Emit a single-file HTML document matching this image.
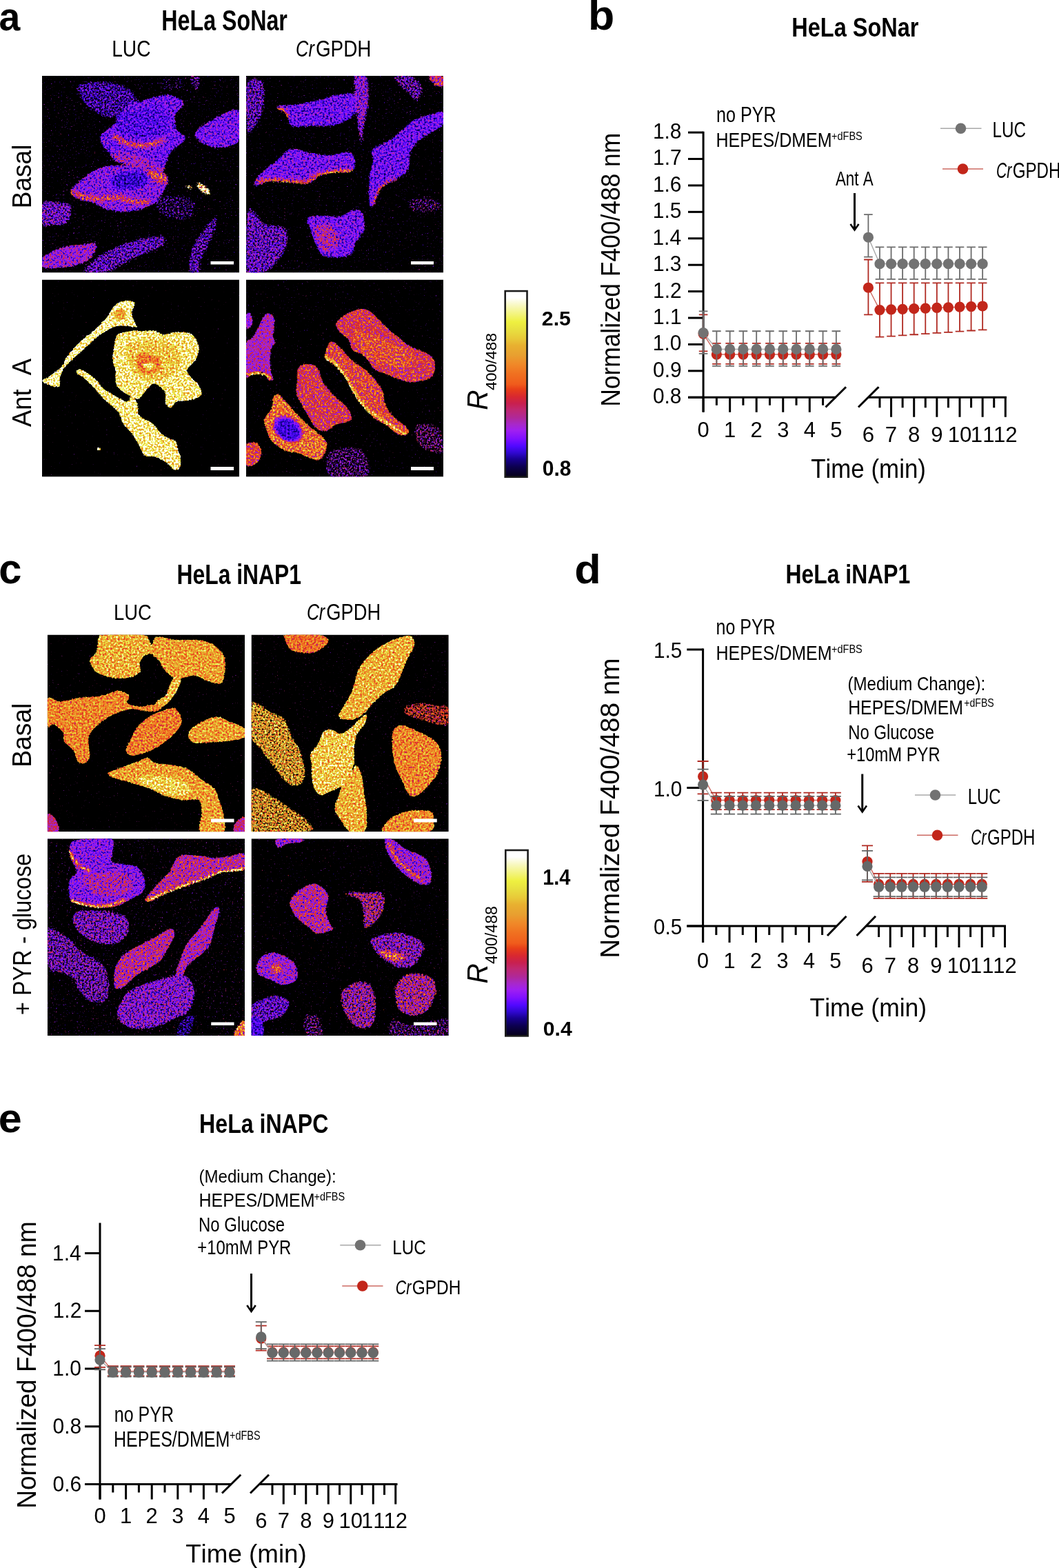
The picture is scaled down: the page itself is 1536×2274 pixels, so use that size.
<!DOCTYPE html>
<html><head><meta charset="utf-8"><title>Figure</title>
<style>
html,body{margin:0;padding:0;background:#fff;}
body{width:1536px;height:2274px;overflow:hidden;}
svg{display:block;}
svg text{font-family:"Liberation Sans",Arial,sans-serif;font-kerning:none;white-space:pre;}
</style></head><body>
<svg width="1536" height="2274" viewBox="0 0 1536 2274">
<defs><filter id="soft" x="-2%" y="-2%" width="104%" height="104%"><feGaussianBlur stdDeviation="6"/></filter>
<linearGradient id="cbar" x1="0" y1="0" x2="0" y2="1"><stop offset="0.000" stop-color="#ffffff"/><stop offset="0.036" stop-color="#ffffff"/><stop offset="0.077" stop-color="#f8f8c0"/><stop offset="0.166" stop-color="#eef040"/><stop offset="0.207" stop-color="#e8e040"/><stop offset="0.258" stop-color="#e8c838"/><stop offset="0.293" stop-color="#e8b030"/><stop offset="0.344" stop-color="#e8a030"/><stop offset="0.395" stop-color="#f08828"/><stop offset="0.446" stop-color="#f07020"/><stop offset="0.501" stop-color="#f05c1c"/><stop offset="0.527" stop-color="#e84018"/><stop offset="0.568" stop-color="#d82830"/><stop offset="0.606" stop-color="#c82050"/><stop offset="0.637" stop-color="#c02870"/><stop offset="0.681" stop-color="#b02898"/><stop offset="0.716" stop-color="#a828c8"/><stop offset="0.750" stop-color="#a020f0"/><stop offset="0.794" stop-color="#8010ff"/><stop offset="0.835" stop-color="#5008ff"/><stop offset="0.870" stop-color="#3008d0"/><stop offset="0.904" stop-color="#180090"/><stop offset="0.945" stop-color="#0c0050"/><stop offset="0.990" stop-color="#060020"/><stop offset="1.000" stop-color="#060018"/></linearGradient>
<clipPath id="clip1"><rect x="0" y="0" width="286.00" height="285.50"/></clipPath>
<filter id="fire1" x="0" y="0" width="286.00" height="285.50" filterUnits="userSpaceOnUse" color-interpolation-filters="sRGB"><feGaussianBlur in="SourceGraphic" stdDeviation="2.00" result="src"/><feColorMatrix in="src" type="matrix" values="1 0 0 0 0 0 1 0 0 0 0 0 1 0 0 0 0 0 0 1" result="opq"/><feTurbulence type="fractalNoise" baseFrequency="0.360" numOctaves="2" seed="10" result="n"/><feColorMatrix in="n" type="matrix" values="1 0 0 0 0 1 0 0 0 0 1 0 0 0 0 0 0 0 0 1" result="ng"/><feComposite in="opq" in2="ng" operator="arithmetic" k1="2.800" k2="-0.400" k3="0" k4="0" result="v"/><feComponentTransfer in="v" result="c"><feFuncR type="table" tableValues="0.0000 0.0266 0.0349 0.0432 0.0568 0.0750 0.0932 0.1359 0.1799 0.2343 0.2912 0.3578 0.4307 0.5030 0.5482 0.5935 0.6311 0.6458 0.6604 0.6746 0.6888 0.7106 0.7333 0.7550 0.7711 0.7890 0.8152 0.8414 0.8661 0.8904 0.9137 0.9328 0.9412 0.9412 0.9412 0.9412 0.9412 0.9412 0.9412 0.9325 0.9228 0.9130 0.9098 0.9098 0.9098 0.9098 0.9098 0.9098 0.9098 0.9098 0.9102 0.9193 0.9284 0.9365 0.9435 0.9505 0.9575 0.9645 0.9715 0.9816 0.9922 1.0000 1.0000 1.0000"/><feFuncG type="table" tableValues="0.0000 0.0000 0.0000 0.0000 0.0000 0.0000 0.0000 0.0139 0.0286 0.0314 0.0314 0.0387 0.0509 0.0632 0.0859 0.1085 0.1292 0.1438 0.1569 0.1569 0.1569 0.1569 0.1569 0.1548 0.1387 0.1278 0.1409 0.1540 0.1854 0.2219 0.2645 0.3315 0.3735 0.3962 0.4188 0.4421 0.4714 0.5007 0.5300 0.5593 0.5886 0.6178 0.6406 0.6601 0.6796 0.7098 0.7525 0.7918 0.8210 0.8503 0.8794 0.9037 0.9280 0.9437 0.9493 0.9549 0.9605 0.9661 0.9717 0.9816 0.9922 1.0000 1.0000 1.0000"/><feFuncB type="table" tableValues="0.0000 0.1501 0.2165 0.2829 0.3657 0.4629 0.5600 0.6763 0.7934 0.8834 0.9670 1.0000 1.0000 0.9995 0.9783 0.9571 0.9229 0.8496 0.7751 0.6897 0.6044 0.5450 0.4884 0.4308 0.3665 0.3044 0.2520 0.1996 0.1597 0.1232 0.0960 0.1056 0.1124 0.1169 0.1214 0.1264 0.1362 0.1460 0.1557 0.1655 0.1753 0.1850 0.1882 0.1882 0.1882 0.1948 0.2090 0.2221 0.2319 0.2416 0.2510 0.2510 0.2510 0.2920 0.3815 0.4710 0.5606 0.6501 0.7396 0.8343 0.9300 1.0000 1.0000 1.0000"/></feComponentTransfer><feTurbulence type="fractalNoise" baseFrequency="0.396" numOctaves="2" seed="18" result="n2"/><feColorMatrix in="n2" type="matrix" values="0 0 0 0 0 0 0 0 0 0 0 0 0 0 0 1 0 0 0 0" result="n2a"/><feComposite in="src" in2="n2a" operator="arithmetic" k1="0" k2="4.00" k3="-4.00" k4="0.5" result="mask"/><feComposite in="c" in2="mask" operator="in" result="o"/><feGaussianBlur in="o" stdDeviation="0.45"/></filter>
<clipPath id="clip2"><rect x="0" y="0" width="286.00" height="285.50"/></clipPath>
<filter id="fire2" x="0" y="0" width="286.00" height="285.50" filterUnits="userSpaceOnUse" color-interpolation-filters="sRGB"><feGaussianBlur in="SourceGraphic" stdDeviation="2.00" result="src"/><feColorMatrix in="src" type="matrix" values="1 0 0 0 0 0 1 0 0 0 0 0 1 0 0 0 0 0 0 1" result="opq"/><feTurbulence type="fractalNoise" baseFrequency="0.360" numOctaves="2" seed="17" result="n"/><feColorMatrix in="n" type="matrix" values="1 0 0 0 0 1 0 0 0 0 1 0 0 0 0 0 0 0 0 1" result="ng"/><feComposite in="opq" in2="ng" operator="arithmetic" k1="2.800" k2="-0.400" k3="0" k4="0" result="v"/><feComponentTransfer in="v" result="c"><feFuncR type="table" tableValues="0.0000 0.0266 0.0349 0.0432 0.0568 0.0750 0.0932 0.1359 0.1799 0.2343 0.2912 0.3578 0.4307 0.5030 0.5482 0.5935 0.6311 0.6458 0.6604 0.6746 0.6888 0.7106 0.7333 0.7550 0.7711 0.7890 0.8152 0.8414 0.8661 0.8904 0.9137 0.9328 0.9412 0.9412 0.9412 0.9412 0.9412 0.9412 0.9412 0.9325 0.9228 0.9130 0.9098 0.9098 0.9098 0.9098 0.9098 0.9098 0.9098 0.9098 0.9102 0.9193 0.9284 0.9365 0.9435 0.9505 0.9575 0.9645 0.9715 0.9816 0.9922 1.0000 1.0000 1.0000"/><feFuncG type="table" tableValues="0.0000 0.0000 0.0000 0.0000 0.0000 0.0000 0.0000 0.0139 0.0286 0.0314 0.0314 0.0387 0.0509 0.0632 0.0859 0.1085 0.1292 0.1438 0.1569 0.1569 0.1569 0.1569 0.1569 0.1548 0.1387 0.1278 0.1409 0.1540 0.1854 0.2219 0.2645 0.3315 0.3735 0.3962 0.4188 0.4421 0.4714 0.5007 0.5300 0.5593 0.5886 0.6178 0.6406 0.6601 0.6796 0.7098 0.7525 0.7918 0.8210 0.8503 0.8794 0.9037 0.9280 0.9437 0.9493 0.9549 0.9605 0.9661 0.9717 0.9816 0.9922 1.0000 1.0000 1.0000"/><feFuncB type="table" tableValues="0.0000 0.1501 0.2165 0.2829 0.3657 0.4629 0.5600 0.6763 0.7934 0.8834 0.9670 1.0000 1.0000 0.9995 0.9783 0.9571 0.9229 0.8496 0.7751 0.6897 0.6044 0.5450 0.4884 0.4308 0.3665 0.3044 0.2520 0.1996 0.1597 0.1232 0.0960 0.1056 0.1124 0.1169 0.1214 0.1264 0.1362 0.1460 0.1557 0.1655 0.1753 0.1850 0.1882 0.1882 0.1882 0.1948 0.2090 0.2221 0.2319 0.2416 0.2510 0.2510 0.2510 0.2920 0.3815 0.4710 0.5606 0.6501 0.7396 0.8343 0.9300 1.0000 1.0000 1.0000"/></feComponentTransfer><feTurbulence type="fractalNoise" baseFrequency="0.396" numOctaves="2" seed="31" result="n2"/><feColorMatrix in="n2" type="matrix" values="0 0 0 0 0 0 0 0 0 0 0 0 0 0 0 1 0 0 0 0" result="n2a"/><feComposite in="src" in2="n2a" operator="arithmetic" k1="0" k2="4.00" k3="-4.00" k4="0.5" result="mask"/><feComposite in="c" in2="mask" operator="in" result="o"/><feGaussianBlur in="o" stdDeviation="0.45"/></filter>
<clipPath id="clip3"><rect x="0" y="0" width="286.00" height="286.00"/></clipPath>
<filter id="fire3" x="0" y="0" width="286.00" height="286.00" filterUnits="userSpaceOnUse" color-interpolation-filters="sRGB"><feGaussianBlur in="SourceGraphic" stdDeviation="1.00" result="src"/><feColorMatrix in="src" type="matrix" values="1 0 0 0 0 0 1 0 0 0 0 0 1 0 0 0 0 0 0 1" result="opq"/><feTurbulence type="fractalNoise" baseFrequency="0.360" numOctaves="2" seed="24" result="n"/><feColorMatrix in="n" type="matrix" values="1 0 0 0 0 1 0 0 0 0 1 0 0 0 0 0 0 0 0 1" result="ng"/><feComposite in="opq" in2="ng" operator="arithmetic" k1="1.300" k2="0.350" k3="0" k4="0" result="v"/><feComponentTransfer in="v" result="c"><feFuncR type="table" tableValues="0.0000 0.0266 0.0349 0.0432 0.0568 0.0750 0.0932 0.1359 0.1799 0.2343 0.2912 0.3578 0.4307 0.5030 0.5482 0.5935 0.6311 0.6458 0.6604 0.6746 0.6888 0.7106 0.7333 0.7550 0.7711 0.7890 0.8152 0.8414 0.8661 0.8904 0.9137 0.9328 0.9412 0.9412 0.9412 0.9412 0.9412 0.9412 0.9412 0.9325 0.9228 0.9130 0.9098 0.9098 0.9098 0.9098 0.9098 0.9098 0.9098 0.9098 0.9102 0.9193 0.9284 0.9365 0.9435 0.9505 0.9575 0.9645 0.9715 0.9816 0.9922 1.0000 1.0000 1.0000"/><feFuncG type="table" tableValues="0.0000 0.0000 0.0000 0.0000 0.0000 0.0000 0.0000 0.0139 0.0286 0.0314 0.0314 0.0387 0.0509 0.0632 0.0859 0.1085 0.1292 0.1438 0.1569 0.1569 0.1569 0.1569 0.1569 0.1548 0.1387 0.1278 0.1409 0.1540 0.1854 0.2219 0.2645 0.3315 0.3735 0.3962 0.4188 0.4421 0.4714 0.5007 0.5300 0.5593 0.5886 0.6178 0.6406 0.6601 0.6796 0.7098 0.7525 0.7918 0.8210 0.8503 0.8794 0.9037 0.9280 0.9437 0.9493 0.9549 0.9605 0.9661 0.9717 0.9816 0.9922 1.0000 1.0000 1.0000"/><feFuncB type="table" tableValues="0.0000 0.1501 0.2165 0.2829 0.3657 0.4629 0.5600 0.6763 0.7934 0.8834 0.9670 1.0000 1.0000 0.9995 0.9783 0.9571 0.9229 0.8496 0.7751 0.6897 0.6044 0.5450 0.4884 0.4308 0.3665 0.3044 0.2520 0.1996 0.1597 0.1232 0.0960 0.1056 0.1124 0.1169 0.1214 0.1264 0.1362 0.1460 0.1557 0.1655 0.1753 0.1850 0.1882 0.1882 0.1882 0.1948 0.2090 0.2221 0.2319 0.2416 0.2510 0.2510 0.2510 0.2920 0.3815 0.4710 0.5606 0.6501 0.7396 0.8343 0.9300 1.0000 1.0000 1.0000"/></feComponentTransfer><feTurbulence type="fractalNoise" baseFrequency="0.396" numOctaves="2" seed="44" result="n2"/><feColorMatrix in="n2" type="matrix" values="0 0 0 0 0 0 0 0 0 0 0 0 0 0 0 1 0 0 0 0" result="n2a"/><feComposite in="src" in2="n2a" operator="arithmetic" k1="0" k2="4.00" k3="-4.00" k4="0.5" result="mask"/><feComposite in="c" in2="mask" operator="in" result="o"/><feGaussianBlur in="o" stdDeviation="0.45"/></filter>
<clipPath id="clip4"><rect x="0" y="0" width="286.00" height="286.00"/></clipPath>
<filter id="fire4" x="0" y="0" width="286.00" height="286.00" filterUnits="userSpaceOnUse" color-interpolation-filters="sRGB"><feGaussianBlur in="SourceGraphic" stdDeviation="1.40" result="src"/><feColorMatrix in="src" type="matrix" values="1 0 0 0 0 0 1 0 0 0 0 0 1 0 0 0 0 0 0 1" result="opq"/><feTurbulence type="fractalNoise" baseFrequency="0.360" numOctaves="2" seed="31" result="n"/><feColorMatrix in="n" type="matrix" values="1 0 0 0 0 1 0 0 0 0 1 0 0 0 0 0 0 0 0 1" result="ng"/><feComposite in="opq" in2="ng" operator="arithmetic" k1="2.000" k2="0.000" k3="0" k4="0" result="v"/><feComponentTransfer in="v" result="c"><feFuncR type="table" tableValues="0.0000 0.0266 0.0349 0.0432 0.0568 0.0750 0.0932 0.1359 0.1799 0.2343 0.2912 0.3578 0.4307 0.5030 0.5482 0.5935 0.6311 0.6458 0.6604 0.6746 0.6888 0.7106 0.7333 0.7550 0.7711 0.7890 0.8152 0.8414 0.8661 0.8904 0.9137 0.9328 0.9412 0.9412 0.9412 0.9412 0.9412 0.9412 0.9412 0.9325 0.9228 0.9130 0.9098 0.9098 0.9098 0.9098 0.9098 0.9098 0.9098 0.9098 0.9102 0.9193 0.9284 0.9365 0.9435 0.9505 0.9575 0.9645 0.9715 0.9816 0.9922 1.0000 1.0000 1.0000"/><feFuncG type="table" tableValues="0.0000 0.0000 0.0000 0.0000 0.0000 0.0000 0.0000 0.0139 0.0286 0.0314 0.0314 0.0387 0.0509 0.0632 0.0859 0.1085 0.1292 0.1438 0.1569 0.1569 0.1569 0.1569 0.1569 0.1548 0.1387 0.1278 0.1409 0.1540 0.1854 0.2219 0.2645 0.3315 0.3735 0.3962 0.4188 0.4421 0.4714 0.5007 0.5300 0.5593 0.5886 0.6178 0.6406 0.6601 0.6796 0.7098 0.7525 0.7918 0.8210 0.8503 0.8794 0.9037 0.9280 0.9437 0.9493 0.9549 0.9605 0.9661 0.9717 0.9816 0.9922 1.0000 1.0000 1.0000"/><feFuncB type="table" tableValues="0.0000 0.1501 0.2165 0.2829 0.3657 0.4629 0.5600 0.6763 0.7934 0.8834 0.9670 1.0000 1.0000 0.9995 0.9783 0.9571 0.9229 0.8496 0.7751 0.6897 0.6044 0.5450 0.4884 0.4308 0.3665 0.3044 0.2520 0.1996 0.1597 0.1232 0.0960 0.1056 0.1124 0.1169 0.1214 0.1264 0.1362 0.1460 0.1557 0.1655 0.1753 0.1850 0.1882 0.1882 0.1882 0.1948 0.2090 0.2221 0.2319 0.2416 0.2510 0.2510 0.2510 0.2920 0.3815 0.4710 0.5606 0.6501 0.7396 0.8343 0.9300 1.0000 1.0000 1.0000"/></feComponentTransfer><feTurbulence type="fractalNoise" baseFrequency="0.396" numOctaves="2" seed="57" result="n2"/><feColorMatrix in="n2" type="matrix" values="0 0 0 0 0 0 0 0 0 0 0 0 0 0 0 1 0 0 0 0" result="n2a"/><feComposite in="src" in2="n2a" operator="arithmetic" k1="0" k2="4.00" k3="-4.00" k4="0.5" result="mask"/><feComposite in="c" in2="mask" operator="in" result="o"/><feGaussianBlur in="o" stdDeviation="0.45"/></filter>
<clipPath id="clip5"><rect x="0" y="0" width="286.25" height="285.75"/></clipPath>
<filter id="fire5" x="0" y="0" width="286.25" height="285.75" filterUnits="userSpaceOnUse" color-interpolation-filters="sRGB"><feGaussianBlur in="SourceGraphic" stdDeviation="1.20" result="src"/><feColorMatrix in="src" type="matrix" values="1 0 0 0 0 0 1 0 0 0 0 0 1 0 0 0 0 0 0 1" result="opq"/><feTurbulence type="fractalNoise" baseFrequency="0.360" numOctaves="2" seed="38" result="n"/><feColorMatrix in="n" type="matrix" values="1 0 0 0 0 1 0 0 0 0 1 0 0 0 0 0 0 0 0 1" result="ng"/><feComposite in="opq" in2="ng" operator="arithmetic" k1="1.350" k2="0.325" k3="0" k4="0" result="v"/><feComponentTransfer in="v" result="c"><feFuncR type="table" tableValues="0.0000 0.0266 0.0349 0.0432 0.0568 0.0750 0.0932 0.1359 0.1799 0.2343 0.2912 0.3578 0.4307 0.5030 0.5482 0.5935 0.6311 0.6458 0.6604 0.6746 0.6888 0.7106 0.7333 0.7550 0.7711 0.7890 0.8152 0.8414 0.8661 0.8904 0.9137 0.9328 0.9412 0.9412 0.9412 0.9412 0.9412 0.9412 0.9412 0.9325 0.9228 0.9130 0.9098 0.9098 0.9098 0.9098 0.9098 0.9098 0.9098 0.9098 0.9102 0.9193 0.9284 0.9365 0.9435 0.9505 0.9575 0.9645 0.9715 0.9816 0.9922 1.0000 1.0000 1.0000"/><feFuncG type="table" tableValues="0.0000 0.0000 0.0000 0.0000 0.0000 0.0000 0.0000 0.0139 0.0286 0.0314 0.0314 0.0387 0.0509 0.0632 0.0859 0.1085 0.1292 0.1438 0.1569 0.1569 0.1569 0.1569 0.1569 0.1548 0.1387 0.1278 0.1409 0.1540 0.1854 0.2219 0.2645 0.3315 0.3735 0.3962 0.4188 0.4421 0.4714 0.5007 0.5300 0.5593 0.5886 0.6178 0.6406 0.6601 0.6796 0.7098 0.7525 0.7918 0.8210 0.8503 0.8794 0.9037 0.9280 0.9437 0.9493 0.9549 0.9605 0.9661 0.9717 0.9816 0.9922 1.0000 1.0000 1.0000"/><feFuncB type="table" tableValues="0.0000 0.1501 0.2165 0.2829 0.3657 0.4629 0.5600 0.6763 0.7934 0.8834 0.9670 1.0000 1.0000 0.9995 0.9783 0.9571 0.9229 0.8496 0.7751 0.6897 0.6044 0.5450 0.4884 0.4308 0.3665 0.3044 0.2520 0.1996 0.1597 0.1232 0.0960 0.1056 0.1124 0.1169 0.1214 0.1264 0.1362 0.1460 0.1557 0.1655 0.1753 0.1850 0.1882 0.1882 0.1882 0.1948 0.2090 0.2221 0.2319 0.2416 0.2510 0.2510 0.2510 0.2920 0.3815 0.4710 0.5606 0.6501 0.7396 0.8343 0.9300 1.0000 1.0000 1.0000"/></feComponentTransfer><feTurbulence type="fractalNoise" baseFrequency="0.396" numOctaves="2" seed="70" result="n2"/><feColorMatrix in="n2" type="matrix" values="0 0 0 0 0 0 0 0 0 0 0 0 0 0 0 1 0 0 0 0" result="n2a"/><feComposite in="src" in2="n2a" operator="arithmetic" k1="0" k2="4.00" k3="-4.00" k4="0.5" result="mask"/><feComposite in="c" in2="mask" operator="in" result="o"/><feGaussianBlur in="o" stdDeviation="0.45"/></filter>
<clipPath id="clip6"><rect x="0" y="0" width="286.25" height="285.75"/></clipPath>
<filter id="fire6" x="0" y="0" width="286.25" height="285.75" filterUnits="userSpaceOnUse" color-interpolation-filters="sRGB"><feGaussianBlur in="SourceGraphic" stdDeviation="1.20" result="src"/><feColorMatrix in="src" type="matrix" values="1 0 0 0 0 0 1 0 0 0 0 0 1 0 0 0 0 0 0 1" result="opq"/><feTurbulence type="fractalNoise" baseFrequency="0.360" numOctaves="2" seed="45" result="n"/><feColorMatrix in="n" type="matrix" values="1 0 0 0 0 1 0 0 0 0 1 0 0 0 0 0 0 0 0 1" result="ng"/><feComposite in="opq" in2="ng" operator="arithmetic" k1="1.450" k2="0.275" k3="0" k4="0" result="v"/><feComponentTransfer in="v" result="c"><feFuncR type="table" tableValues="0.0000 0.0266 0.0349 0.0432 0.0568 0.0750 0.0932 0.1359 0.1799 0.2343 0.2912 0.3578 0.4307 0.5030 0.5482 0.5935 0.6311 0.6458 0.6604 0.6746 0.6888 0.7106 0.7333 0.7550 0.7711 0.7890 0.8152 0.8414 0.8661 0.8904 0.9137 0.9328 0.9412 0.9412 0.9412 0.9412 0.9412 0.9412 0.9412 0.9325 0.9228 0.9130 0.9098 0.9098 0.9098 0.9098 0.9098 0.9098 0.9098 0.9098 0.9102 0.9193 0.9284 0.9365 0.9435 0.9505 0.9575 0.9645 0.9715 0.9816 0.9922 1.0000 1.0000 1.0000"/><feFuncG type="table" tableValues="0.0000 0.0000 0.0000 0.0000 0.0000 0.0000 0.0000 0.0139 0.0286 0.0314 0.0314 0.0387 0.0509 0.0632 0.0859 0.1085 0.1292 0.1438 0.1569 0.1569 0.1569 0.1569 0.1569 0.1548 0.1387 0.1278 0.1409 0.1540 0.1854 0.2219 0.2645 0.3315 0.3735 0.3962 0.4188 0.4421 0.4714 0.5007 0.5300 0.5593 0.5886 0.6178 0.6406 0.6601 0.6796 0.7098 0.7525 0.7918 0.8210 0.8503 0.8794 0.9037 0.9280 0.9437 0.9493 0.9549 0.9605 0.9661 0.9717 0.9816 0.9922 1.0000 1.0000 1.0000"/><feFuncB type="table" tableValues="0.0000 0.1501 0.2165 0.2829 0.3657 0.4629 0.5600 0.6763 0.7934 0.8834 0.9670 1.0000 1.0000 0.9995 0.9783 0.9571 0.9229 0.8496 0.7751 0.6897 0.6044 0.5450 0.4884 0.4308 0.3665 0.3044 0.2520 0.1996 0.1597 0.1232 0.0960 0.1056 0.1124 0.1169 0.1214 0.1264 0.1362 0.1460 0.1557 0.1655 0.1753 0.1850 0.1882 0.1882 0.1882 0.1948 0.2090 0.2221 0.2319 0.2416 0.2510 0.2510 0.2510 0.2920 0.3815 0.4710 0.5606 0.6501 0.7396 0.8343 0.9300 1.0000 1.0000 1.0000"/></feComponentTransfer><feTurbulence type="fractalNoise" baseFrequency="0.396" numOctaves="2" seed="83" result="n2"/><feColorMatrix in="n2" type="matrix" values="0 0 0 0 0 0 0 0 0 0 0 0 0 0 0 1 0 0 0 0" result="n2a"/><feComposite in="src" in2="n2a" operator="arithmetic" k1="0" k2="4.00" k3="-4.00" k4="0.5" result="mask"/><feComposite in="c" in2="mask" operator="in" result="o"/><feGaussianBlur in="o" stdDeviation="0.45"/></filter>
<clipPath id="clip7"><rect x="0" y="0" width="286.25" height="285.75"/></clipPath>
<filter id="fire7" x="0" y="0" width="286.25" height="285.75" filterUnits="userSpaceOnUse" color-interpolation-filters="sRGB"><feGaussianBlur in="SourceGraphic" stdDeviation="1.80" result="src"/><feColorMatrix in="src" type="matrix" values="1 0 0 0 0 0 1 0 0 0 0 0 1 0 0 0 0 0 0 1" result="opq"/><feTurbulence type="fractalNoise" baseFrequency="0.360" numOctaves="2" seed="52" result="n"/><feColorMatrix in="n" type="matrix" values="1 0 0 0 0 1 0 0 0 0 1 0 0 0 0 0 0 0 0 1" result="ng"/><feComposite in="opq" in2="ng" operator="arithmetic" k1="2.700" k2="-0.350" k3="0" k4="0" result="v"/><feComponentTransfer in="v" result="c"><feFuncR type="table" tableValues="0.0000 0.0266 0.0349 0.0432 0.0568 0.0750 0.0932 0.1359 0.1799 0.2343 0.2912 0.3578 0.4307 0.5030 0.5482 0.5935 0.6311 0.6458 0.6604 0.6746 0.6888 0.7106 0.7333 0.7550 0.7711 0.7890 0.8152 0.8414 0.8661 0.8904 0.9137 0.9328 0.9412 0.9412 0.9412 0.9412 0.9412 0.9412 0.9412 0.9325 0.9228 0.9130 0.9098 0.9098 0.9098 0.9098 0.9098 0.9098 0.9098 0.9098 0.9102 0.9193 0.9284 0.9365 0.9435 0.9505 0.9575 0.9645 0.9715 0.9816 0.9922 1.0000 1.0000 1.0000"/><feFuncG type="table" tableValues="0.0000 0.0000 0.0000 0.0000 0.0000 0.0000 0.0000 0.0139 0.0286 0.0314 0.0314 0.0387 0.0509 0.0632 0.0859 0.1085 0.1292 0.1438 0.1569 0.1569 0.1569 0.1569 0.1569 0.1548 0.1387 0.1278 0.1409 0.1540 0.1854 0.2219 0.2645 0.3315 0.3735 0.3962 0.4188 0.4421 0.4714 0.5007 0.5300 0.5593 0.5886 0.6178 0.6406 0.6601 0.6796 0.7098 0.7525 0.7918 0.8210 0.8503 0.8794 0.9037 0.9280 0.9437 0.9493 0.9549 0.9605 0.9661 0.9717 0.9816 0.9922 1.0000 1.0000 1.0000"/><feFuncB type="table" tableValues="0.0000 0.1501 0.2165 0.2829 0.3657 0.4629 0.5600 0.6763 0.7934 0.8834 0.9670 1.0000 1.0000 0.9995 0.9783 0.9571 0.9229 0.8496 0.7751 0.6897 0.6044 0.5450 0.4884 0.4308 0.3665 0.3044 0.2520 0.1996 0.1597 0.1232 0.0960 0.1056 0.1124 0.1169 0.1214 0.1264 0.1362 0.1460 0.1557 0.1655 0.1753 0.1850 0.1882 0.1882 0.1882 0.1948 0.2090 0.2221 0.2319 0.2416 0.2510 0.2510 0.2510 0.2920 0.3815 0.4710 0.5606 0.6501 0.7396 0.8343 0.9300 1.0000 1.0000 1.0000"/></feComponentTransfer><feTurbulence type="fractalNoise" baseFrequency="0.396" numOctaves="2" seed="96" result="n2"/><feColorMatrix in="n2" type="matrix" values="0 0 0 0 0 0 0 0 0 0 0 0 0 0 0 1 0 0 0 0" result="n2a"/><feComposite in="src" in2="n2a" operator="arithmetic" k1="0" k2="4.00" k3="-4.00" k4="0.5" result="mask"/><feComposite in="c" in2="mask" operator="in" result="o"/><feGaussianBlur in="o" stdDeviation="0.45"/></filter>
<clipPath id="clip8"><rect x="0" y="0" width="286.25" height="285.75"/></clipPath>
<filter id="fire8" x="0" y="0" width="286.25" height="285.75" filterUnits="userSpaceOnUse" color-interpolation-filters="sRGB"><feGaussianBlur in="SourceGraphic" stdDeviation="1.80" result="src"/><feColorMatrix in="src" type="matrix" values="1 0 0 0 0 0 1 0 0 0 0 0 1 0 0 0 0 0 0 1" result="opq"/><feTurbulence type="fractalNoise" baseFrequency="0.360" numOctaves="2" seed="59" result="n"/><feColorMatrix in="n" type="matrix" values="1 0 0 0 0 1 0 0 0 0 1 0 0 0 0 0 0 0 0 1" result="ng"/><feComposite in="opq" in2="ng" operator="arithmetic" k1="2.700" k2="-0.350" k3="0" k4="0" result="v"/><feComponentTransfer in="v" result="c"><feFuncR type="table" tableValues="0.0000 0.0266 0.0349 0.0432 0.0568 0.0750 0.0932 0.1359 0.1799 0.2343 0.2912 0.3578 0.4307 0.5030 0.5482 0.5935 0.6311 0.6458 0.6604 0.6746 0.6888 0.7106 0.7333 0.7550 0.7711 0.7890 0.8152 0.8414 0.8661 0.8904 0.9137 0.9328 0.9412 0.9412 0.9412 0.9412 0.9412 0.9412 0.9412 0.9325 0.9228 0.9130 0.9098 0.9098 0.9098 0.9098 0.9098 0.9098 0.9098 0.9098 0.9102 0.9193 0.9284 0.9365 0.9435 0.9505 0.9575 0.9645 0.9715 0.9816 0.9922 1.0000 1.0000 1.0000"/><feFuncG type="table" tableValues="0.0000 0.0000 0.0000 0.0000 0.0000 0.0000 0.0000 0.0139 0.0286 0.0314 0.0314 0.0387 0.0509 0.0632 0.0859 0.1085 0.1292 0.1438 0.1569 0.1569 0.1569 0.1569 0.1569 0.1548 0.1387 0.1278 0.1409 0.1540 0.1854 0.2219 0.2645 0.3315 0.3735 0.3962 0.4188 0.4421 0.4714 0.5007 0.5300 0.5593 0.5886 0.6178 0.6406 0.6601 0.6796 0.7098 0.7525 0.7918 0.8210 0.8503 0.8794 0.9037 0.9280 0.9437 0.9493 0.9549 0.9605 0.9661 0.9717 0.9816 0.9922 1.0000 1.0000 1.0000"/><feFuncB type="table" tableValues="0.0000 0.1501 0.2165 0.2829 0.3657 0.4629 0.5600 0.6763 0.7934 0.8834 0.9670 1.0000 1.0000 0.9995 0.9783 0.9571 0.9229 0.8496 0.7751 0.6897 0.6044 0.5450 0.4884 0.4308 0.3665 0.3044 0.2520 0.1996 0.1597 0.1232 0.0960 0.1056 0.1124 0.1169 0.1214 0.1264 0.1362 0.1460 0.1557 0.1655 0.1753 0.1850 0.1882 0.1882 0.1882 0.1948 0.2090 0.2221 0.2319 0.2416 0.2510 0.2510 0.2510 0.2920 0.3815 0.4710 0.5606 0.6501 0.7396 0.8343 0.9300 1.0000 1.0000 1.0000"/></feComponentTransfer><feTurbulence type="fractalNoise" baseFrequency="0.396" numOctaves="2" seed="109" result="n2"/><feColorMatrix in="n2" type="matrix" values="0 0 0 0 0 0 0 0 0 0 0 0 0 0 0 1 0 0 0 0" result="n2a"/><feComposite in="src" in2="n2a" operator="arithmetic" k1="0" k2="4.00" k3="-4.00" k4="0.5" result="mask"/><feComposite in="c" in2="mask" operator="in" result="o"/><feGaussianBlur in="o" stdDeviation="0.45"/></filter></defs>
<rect x="0" y="0" width="1536" height="2274" fill="#fff"/>
<text x="-1.62" y="43.94" font-size="57.50" textLength="30.77" lengthAdjust="spacingAndGlyphs" font-weight="bold">a</text>
<text x="234.35" y="43.79" font-size="41.95" textLength="182.54" lengthAdjust="spacingAndGlyphs" font-weight="bold">HeLa SoNar</text>
<text x="162.19" y="81.98" font-size="32.91" textLength="56.39" lengthAdjust="spacingAndGlyphs">LUC</text>
<text x="429.10" y="82.18" font-size="33.19" textLength="26.74" lengthAdjust="spacingAndGlyphs" font-style="italic">Cr</text>
<text x="457.90" y="82.18" font-size="33.19" textLength="80.63" lengthAdjust="spacingAndGlyphs">GPDH</text>
<g transform="translate(44.90,299.20) rotate(-90)"><text x="-3.04" y="0.00" font-size="38.52" textLength="92.61" lengthAdjust="spacingAndGlyphs">Basal</text></g>
<g transform="translate(44.70,619.00) rotate(-90)"><text x="-0.07" y="0.00" font-size="38.95" textLength="99.04" lengthAdjust="spacingAndGlyphs">Ant  A</text></g>
<g transform="translate(61.00,110.00)" clip-path="url(#clip1)">
<rect x="0" y="0" width="286.00" height="285.50" fill="#000"/>
<g filter="url(#fire1)"><g transform="scale(0.18620,0.18587)">
</g></g><g filter="url(#fire1)"><g transform="scale(0.18620,0.18587)"><rect x="-40" y="-40" width="1616" height="1616" fill="#383838" fill-opacity="0.20"/></g></g><g filter="url(#fire1)"><g transform="scale(0.18620,0.18587)">
<path d="M270.0,80.0 C283.3,51.7 351.7,45.0 400.0,40.0 C448.3,35.0 510.0,38.3 560.0,50.0 C610.0,61.7 670.0,85.0 700.0,110.0 C730.0,135.0 746.7,168.3 740.0,200.0 C733.3,231.7 696.7,278.3 660.0,300.0 C623.3,321.7 560.0,331.7 520.0,330.0 C480.0,328.3 453.3,310.0 420.0,290.0 C386.7,270.0 345.0,245.0 320.0,210.0 C295.0,175.0 256.7,108.3 270.0,80.0Z" fill="#2b2b2b" fill-opacity="0.55"/>
<path d="M680.0,230.0 C723.3,206.7 846.7,173.3 900.0,160.0 C953.3,146.7 965.0,141.7 1000.0,150.0 C1035.0,158.3 1103.3,185.0 1110.0,210.0 C1116.7,235.0 1050.0,265.0 1040.0,300.0 C1030.0,335.0 1036.7,388.3 1050.0,420.0 C1063.3,451.7 1128.3,460.0 1120.0,490.0 C1111.7,520.0 1026.7,565.0 1000.0,600.0 C973.3,635.0 980.0,680.0 960.0,700.0 C940.0,720.0 910.0,728.3 880.0,720.0 C850.0,711.7 823.3,663.3 780.0,650.0 C736.7,636.7 663.3,648.3 620.0,640.0 C576.7,631.7 548.3,626.7 520.0,600.0 C491.7,573.3 443.3,516.7 450.0,480.0 C456.7,443.3 528.3,410.0 560.0,380.0 C591.7,350.0 620.0,325.0 640.0,300.0 C660.0,275.0 636.7,253.3 680.0,230.0Z" fill="#303030" fill-opacity="0.95"/>
<path d="M620.0,300.0 C673.3,270.0 840.0,226.7 900.0,240.0 C960.0,253.3 976.7,341.7 980.0,380.0 C983.3,418.3 966.7,453.3 920.0,470.0 C873.3,486.7 756.7,488.3 700.0,480.0 C643.3,471.7 593.3,450.0 580.0,420.0 C566.7,390.0 566.7,330.0 620.0,300.0Z" fill="#292929"/>
<path d="M560.0,470.0 L620.0,510.0 L700.0,540.0 L800.0,545.0 L880.0,525.0 L940.0,500.0" fill="none" stroke="#808080" stroke-width="26" stroke-linecap="round" stroke-linejoin="round"/>
<path d="M560.0,600.0 C593.3,593.3 703.3,603.3 760.0,620.0 C816.7,636.7 866.7,683.3 900.0,700.0 C933.3,716.7 963.3,710.0 960.0,720.0 C956.7,730.0 923.3,763.3 880.0,760.0 C836.7,756.7 753.3,716.7 700.0,700.0 C646.7,683.3 583.3,676.7 560.0,660.0 C536.7,643.3 526.7,606.7 560.0,600.0Z" fill="#454545"/>
<path d="M220.0,900.0 C226.7,873.3 281.7,830.0 320.0,800.0 C358.3,770.0 403.3,736.7 450.0,720.0 C496.7,703.3 541.7,700.0 600.0,700.0 C658.3,700.0 741.7,710.0 800.0,720.0 C858.3,730.0 920.0,741.7 950.0,760.0 C980.0,778.3 988.3,796.7 980.0,830.0 C971.7,863.3 930.0,926.7 900.0,960.0 C870.0,993.3 841.7,1013.3 800.0,1030.0 C758.3,1046.7 700.0,1058.3 650.0,1060.0 C600.0,1061.7 541.7,1051.7 500.0,1040.0 C458.3,1028.3 436.7,1003.3 400.0,990.0 C363.3,976.7 310.0,975.0 280.0,960.0 C250.0,945.0 213.3,926.7 220.0,900.0Z" fill="#383838"/>
<path d="M240.0,910.0 L330.0,950.0 L450.0,960.0 L600.0,950.0 L720.0,980.0 L820.0,990.0" fill="none" stroke="#787878" stroke-width="30" stroke-linecap="round" stroke-linejoin="round"/>
<ellipse cx="680.0" cy="815.0" rx="150.0" ry="70.0" transform="rotate(-5.0 680.0 815.0)" fill="#212121"/>
<path d="M820.0,740.0 C836.7,735.0 936.7,753.3 960.0,770.0 C983.3,786.7 976.7,835.0 960.0,840.0 C943.3,845.0 883.3,816.7 860.0,800.0 C836.7,783.3 803.3,745.0 820.0,740.0Z" fill="#737373"/>
<path d="M1190.0,450.0 C1201.7,415.0 1292.3,360.0 1350.0,330.0 C1407.7,300.0 1505.0,241.7 1536.0,270.0 C1567.0,298.3 1558.7,451.7 1536.0,500.0 C1513.3,548.3 1442.7,553.3 1400.0,560.0 C1357.3,566.7 1315.0,558.3 1280.0,540.0 C1245.0,521.7 1178.3,485.0 1190.0,450.0Z" fill="#333333"/>
<path d="M0.0,990.0 C20.0,958.3 81.7,976.7 120.0,980.0 C158.3,983.3 216.7,981.7 230.0,1010.0 C243.3,1038.3 225.0,1123.3 200.0,1150.0 C175.0,1176.7 113.3,1166.7 80.0,1170.0 C46.7,1173.3 13.3,1200.0 0.0,1170.0 C-13.3,1140.0 -20.0,1021.7 0.0,990.0Z" fill="#383838" fill-opacity="0.62"/>
<path d="M0.0,1420.0 C25.0,1395.0 100.0,1356.7 150.0,1340.0 C200.0,1323.3 255.0,1325.0 300.0,1320.0 C345.0,1315.0 406.7,1293.3 420.0,1310.0 C433.3,1326.7 408.3,1391.7 380.0,1420.0 C351.7,1448.3 296.7,1466.7 250.0,1480.0 C203.3,1493.3 141.7,1498.3 100.0,1500.0 C58.3,1501.7 16.7,1503.3 0.0,1490.0 C-16.7,1476.7 -25.0,1445.0 0.0,1420.0Z" fill="#424242"/>
<path d="M320.0,1536.0 C303.3,1516.7 373.3,1456.0 420.0,1420.0 C466.7,1384.0 536.7,1346.7 600.0,1320.0 C663.3,1293.3 741.7,1271.7 800.0,1260.0 C858.3,1248.3 926.7,1238.3 950.0,1250.0 C973.3,1261.7 971.7,1303.3 940.0,1330.0 C908.3,1356.7 816.7,1383.3 760.0,1410.0 C703.3,1436.7 640.0,1469.0 600.0,1490.0 C560.0,1511.0 566.7,1528.3 520.0,1536.0 C473.3,1543.7 336.7,1555.3 320.0,1536.0Z" fill="#333333" fill-opacity="0.60"/>
<path d="M1140.0,1536.0 C1128.3,1505.0 1141.7,1406.0 1160.0,1350.0 C1178.3,1294.0 1220.0,1241.7 1250.0,1200.0 C1280.0,1158.3 1320.0,1110.0 1340.0,1100.0 C1360.0,1090.0 1375.0,1106.7 1370.0,1140.0 C1365.0,1173.3 1331.7,1248.3 1310.0,1300.0 C1288.3,1351.7 1253.3,1410.7 1240.0,1450.0 C1226.7,1489.3 1246.7,1521.7 1230.0,1536.0 C1213.3,1550.3 1151.7,1567.0 1140.0,1536.0Z" fill="#333333" fill-opacity="0.55"/>
<path d="M1150.0,0.0 C1160.0,-13.3 1219.2,-20.0 1230.0,0.0 C1240.8,20.0 1225.0,106.7 1215.0,120.0 C1205.0,133.3 1180.8,100.0 1170.0,80.0 C1159.2,60.0 1140.0,13.3 1150.0,0.0Z" fill="#383838" fill-opacity="0.50"/>
<path d="M1200.0,850.0 C1198.3,838.3 1221.7,831.7 1240.0,840.0 C1258.3,848.3 1300.0,885.8 1310.0,900.0 C1320.0,914.2 1310.0,923.3 1300.0,925.0 C1290.0,926.7 1266.7,922.5 1250.0,910.0 C1233.3,897.5 1201.7,861.7 1200.0,850.0Z" fill="#e6e6e6"/>
<path d="M1120.0,860.0 C1127.5,857.8 1161.7,858.7 1170.0,862.0 C1178.3,865.3 1177.5,877.8 1170.0,880.0 C1162.5,882.2 1133.3,878.3 1125.0,875.0 C1116.7,871.7 1112.5,862.2 1120.0,860.0Z" fill="#cccccc"/>
<path d="M880.0,960.0 C905.0,931.7 1046.7,923.3 1100.0,930.0 C1153.3,936.7 1191.7,968.3 1200.0,1000.0 C1208.3,1031.7 1191.7,1103.3 1150.0,1120.0 C1108.3,1136.7 995.0,1126.7 950.0,1100.0 C905.0,1073.3 855.0,988.3 880.0,960.0Z" fill="#333333" fill-opacity="0.42"/>
<path d="M900.0,20.0 C925.0,1.7 1063.3,-3.3 1100.0,10.0 C1136.7,23.3 1145.0,81.7 1120.0,100.0 C1095.0,118.3 986.7,133.3 950.0,120.0 C913.3,106.7 875.0,38.3 900.0,20.0Z" fill="#333333" fill-opacity="0.32"/>
</g></g>
<rect x="244.50" y="269.00" width="33.50" height="4.50" fill="#fff"/>
</g>
<g transform="translate(357.00,110.00)" clip-path="url(#clip2)">
<rect x="0" y="0" width="286.00" height="285.50" fill="#000"/>
<g filter="url(#fire2)"><g transform="scale(0.18620,0.18587)">
</g></g><g filter="url(#fire2)"><g transform="scale(0.18620,0.18587)"><rect x="-40" y="-40" width="1616" height="1616" fill="#383838" fill-opacity="0.20"/></g></g><g filter="url(#fire2)"><g transform="scale(0.18620,0.18587)">
<path d="M0.0,60.0 C21.7,-5.0 106.7,8.3 130.0,40.0 C153.3,71.7 151.7,186.7 140.0,250.0 C128.3,313.3 83.3,390.0 60.0,420.0 C36.7,450.0 10.0,490.0 0.0,430.0 C-10.0,370.0 -21.7,125.0 0.0,60.0Z" fill="#363636" fill-opacity="0.58"/>
<path d="M230.0,240.0 C246.7,226.7 358.3,230.0 420.0,220.0 C481.7,210.0 553.3,191.7 600.0,180.0 C646.7,168.3 660.0,155.0 700.0,150.0 C740.0,145.0 816.7,125.0 840.0,150.0 C863.3,175.0 863.3,261.7 840.0,300.0 C816.7,338.3 756.7,365.0 700.0,380.0 C643.3,395.0 558.3,388.3 500.0,390.0 C441.7,391.7 380.0,405.0 350.0,390.0 C320.0,375.0 340.0,325.0 320.0,300.0 C300.0,275.0 213.3,253.3 230.0,240.0Z" fill="#303030"/>
<path d="M240.0,245.0 L300.0,270.0 L330.0,330.0" fill="none" stroke="#999999" stroke-width="12" stroke-linecap="round" stroke-linejoin="round"/>
<path d="M840.0,0.0 C855.0,-33.3 920.0,-33.3 940.0,0.0 C960.0,33.3 963.3,133.3 960.0,200.0 C956.7,266.7 930.0,340.0 920.0,400.0 C910.0,460.0 908.3,560.0 900.0,560.0 C891.7,560.0 878.3,460.0 870.0,400.0 C861.7,340.0 855.0,266.7 850.0,200.0 C845.0,133.3 825.0,33.3 840.0,0.0Z" fill="#3d3d3d" fill-opacity="0.70"/>
<path d="M80.0,800.0 C108.3,765.0 205.0,688.3 250.0,650.0 C295.0,611.7 308.3,578.3 350.0,570.0 C391.7,561.7 450.0,591.7 500.0,600.0 C550.0,608.3 596.7,620.0 650.0,620.0 C703.3,620.0 790.0,580.0 820.0,600.0 C850.0,620.0 866.7,713.3 830.0,740.0 C793.3,766.7 658.3,743.3 600.0,760.0 C541.7,776.7 546.7,830.0 480.0,840.0 C413.3,850.0 266.7,816.7 200.0,820.0 C133.3,823.3 100.0,863.3 80.0,860.0 C60.0,856.7 51.7,835.0 80.0,800.0Z" fill="#333333"/>
<path d="M90.0,820.0 L200.0,815.0 L320.0,820.0 L470.0,830.0 L560.0,770.0 L700.0,745.0 L820.0,740.0" fill="none" stroke="#9e9e9e" stroke-width="16" stroke-linecap="round" stroke-linejoin="round"/>
<path d="M980.0,580.0 C1006.7,551.7 1096.7,518.3 1150.0,480.0 C1203.3,441.7 1250.0,380.0 1300.0,350.0 C1350.0,320.0 1410.7,311.7 1450.0,300.0 C1489.3,288.3 1521.7,266.7 1536.0,280.0 C1550.3,293.3 1567.0,343.3 1536.0,380.0 C1505.0,416.7 1392.7,463.3 1350.0,500.0 C1307.3,536.7 1296.7,558.3 1280.0,600.0 C1263.3,641.7 1280.0,711.7 1250.0,750.0 C1220.0,788.3 1138.3,805.0 1100.0,830.0 C1061.7,855.0 1036.7,870.0 1020.0,900.0 C1003.3,930.0 1010.0,993.3 1000.0,1010.0 C990.0,1026.7 966.7,1035.0 960.0,1000.0 C953.3,965.0 955.0,858.3 960.0,800.0 C965.0,741.7 986.7,686.7 990.0,650.0 C993.3,613.3 953.3,608.3 980.0,580.0Z" fill="#303030"/>
<path d="M990.0,1000.0 L1040.0,880.0 L1100.0,830.0 L1180.0,810.0" fill="none" stroke="#737373" stroke-width="14" stroke-linecap="round" stroke-linejoin="round"/>
<path d="M1150.0,0.0 C1170.0,-10.0 1261.7,-16.7 1300.0,0.0 C1338.3,16.7 1375.0,66.7 1380.0,100.0 C1385.0,133.3 1351.7,195.0 1330.0,200.0 C1308.3,205.0 1275.0,153.3 1250.0,130.0 C1225.0,106.7 1196.7,81.7 1180.0,60.0 C1163.3,38.3 1130.0,10.0 1150.0,0.0Z" fill="#383838" fill-opacity="0.55"/>
<path d="M1420.0,0.0 C1429.3,-13.3 1516.7,-13.3 1536.0,0.0 C1555.3,13.3 1545.3,66.7 1536.0,80.0 C1526.7,93.3 1499.3,93.3 1480.0,80.0 C1460.7,66.7 1410.7,13.3 1420.0,0.0Z" fill="#595959"/>
<path d="M480.0,1110.0 C496.7,1091.7 560.0,1091.7 600.0,1090.0 C640.0,1088.3 681.7,1106.7 720.0,1100.0 C758.3,1093.3 800.0,1056.7 830.0,1050.0 C860.0,1043.3 885.0,1035.0 900.0,1060.0 C915.0,1085.0 928.3,1160.0 920.0,1200.0 C911.7,1240.0 868.3,1266.7 850.0,1300.0 C831.7,1333.3 848.3,1381.7 810.0,1400.0 C771.7,1418.3 661.7,1418.3 620.0,1410.0 C578.3,1401.7 580.0,1385.0 560.0,1350.0 C540.0,1315.0 513.3,1240.0 500.0,1200.0 C486.7,1160.0 463.3,1128.3 480.0,1110.0Z" fill="#333333"/>
<path d="M540.0,1180.0 C556.7,1158.3 630.0,1150.0 660.0,1170.0 C690.0,1190.0 726.7,1266.7 720.0,1300.0 C713.3,1333.3 646.7,1370.0 620.0,1370.0 C593.3,1370.0 573.3,1331.7 560.0,1300.0 C546.7,1268.3 523.3,1201.7 540.0,1180.0Z" fill="#545454" fill-opacity="0.80"/>
<path d="M0.0,1100.0 C8.3,1017.3 25.0,1031.7 50.0,1040.0 C75.0,1048.3 108.3,1126.7 150.0,1150.0 C191.7,1173.3 270.0,1155.0 300.0,1180.0 C330.0,1205.0 338.3,1255.0 330.0,1300.0 C321.7,1345.0 280.0,1410.7 250.0,1450.0 C220.0,1489.3 191.7,1521.7 150.0,1536.0 C108.3,1550.3 25.0,1608.7 0.0,1536.0 C-25.0,1463.3 -8.3,1182.7 0.0,1100.0Z" fill="#363636" fill-opacity="0.60"/>
<path d="M1280.0,950.0 C1313.3,933.3 1463.3,941.7 1500.0,960.0 C1536.7,978.3 1533.3,1043.3 1500.0,1060.0 C1466.7,1076.7 1336.7,1078.3 1300.0,1060.0 C1263.3,1041.7 1246.7,966.7 1280.0,950.0Z" fill="#404040" fill-opacity="0.42"/>
</g></g>
<rect x="239.00" y="269.00" width="33.00" height="4.50" fill="#fff"/>
</g>
<g transform="translate(61.00,405.50)" clip-path="url(#clip3)">
<rect x="0" y="0" width="286.00" height="286.00" fill="#000"/>
<g filter="url(#fire3)"><g transform="scale(0.18620,0.18620)">
</g></g><g filter="url(#fire3)"><g transform="scale(0.18620,0.18620)"><rect x="-40" y="-40" width="1616" height="1616" fill="#4c4c4c" fill-opacity="0.12"/></g></g><g filter="url(#fire3)"><g transform="scale(0.18620,0.18620)">
<path d="M10.0,780.0 C18.3,771.7 36.7,766.7 60.0,750.0 C83.3,733.3 126.7,706.7 150.0,680.0 C173.3,653.3 175.0,623.3 200.0,590.0 C225.0,556.7 266.7,511.7 300.0,480.0 C333.3,448.3 366.7,430.0 400.0,400.0 C433.3,370.0 473.3,331.7 500.0,300.0 C526.7,268.3 540.0,231.7 560.0,210.0 C580.0,188.3 593.3,175.8 620.0,170.0 C646.7,164.2 706.7,160.0 720.0,175.0 C733.3,190.0 700.0,234.2 700.0,260.0 C700.0,285.8 713.3,311.7 720.0,330.0 C726.7,348.3 753.3,365.0 740.0,370.0 C726.7,375.0 670.0,360.0 640.0,360.0 C610.0,360.0 591.7,358.3 560.0,370.0 C528.3,381.7 485.0,405.0 450.0,430.0 C415.0,455.0 381.7,491.7 350.0,520.0 C318.3,548.3 288.3,573.3 260.0,600.0 C231.7,626.7 200.0,653.3 180.0,680.0 C160.0,706.7 146.7,735.0 140.0,760.0 C133.3,785.0 150.0,818.3 140.0,830.0 C130.0,841.7 101.7,835.0 80.0,830.0 C58.3,825.0 21.7,808.3 10.0,800.0 C-1.7,791.7 1.7,788.3 10.0,780.0Z" fill="#e6e6e6"/>
<path d="M560.0,250.0 C570.0,236.7 625.0,221.7 640.0,230.0 C655.0,238.3 660.0,286.7 650.0,300.0 C640.0,313.3 595.0,318.3 580.0,310.0 C565.0,301.7 550.0,263.3 560.0,250.0Z" fill="#999999" fill-opacity="0.80"/>
<path d="M570.0,470.0 C578.3,436.7 578.3,431.7 600.0,420.0 C621.7,408.3 666.7,403.3 700.0,400.0 C733.3,396.7 770.0,400.0 800.0,400.0 C830.0,400.0 855.0,395.0 880.0,400.0 C905.0,405.0 925.0,428.3 950.0,430.0 C975.0,431.7 1005.0,413.3 1030.0,410.0 C1055.0,406.7 1076.7,406.7 1100.0,410.0 C1123.3,413.3 1150.0,411.7 1170.0,430.0 C1190.0,448.3 1215.0,488.3 1220.0,520.0 C1225.0,551.7 1215.0,590.0 1200.0,620.0 C1185.0,650.0 1136.7,676.7 1130.0,700.0 C1123.3,723.3 1145.0,740.0 1160.0,760.0 C1175.0,780.0 1206.7,796.7 1220.0,820.0 C1233.3,843.3 1251.7,880.0 1240.0,900.0 C1228.3,920.0 1181.7,931.7 1150.0,940.0 C1118.3,948.3 1075.0,940.0 1050.0,950.0 C1025.0,960.0 1015.0,998.3 1000.0,1000.0 C985.0,1001.7 966.7,980.0 960.0,960.0 C953.3,940.0 970.0,903.3 960.0,880.0 C950.0,856.7 918.3,830.0 900.0,820.0 C881.7,810.0 870.0,806.7 850.0,820.0 C830.0,833.3 798.3,881.7 780.0,900.0 C761.7,918.3 763.3,933.3 740.0,930.0 C716.7,926.7 666.7,898.3 640.0,880.0 C613.3,861.7 591.7,850.0 580.0,820.0 C568.3,790.0 575.0,733.3 570.0,700.0 C565.0,666.7 550.0,658.3 550.0,620.0 C550.0,581.7 561.7,503.3 570.0,470.0Z" fill="#dbdbdb"/>
<path d="M680.0,500.0 C720.0,478.3 838.3,466.7 900.0,470.0 C961.7,473.3 1020.0,490.0 1050.0,520.0 C1080.0,550.0 1091.7,610.0 1080.0,650.0 C1068.3,690.0 1026.7,738.3 980.0,760.0 C933.3,781.7 846.7,790.0 800.0,780.0 C753.3,770.0 723.3,730.0 700.0,700.0 C676.7,670.0 663.3,633.3 660.0,600.0 C656.7,566.7 640.0,521.7 680.0,500.0Z" fill="#bdbdbd" fill-opacity="0.90"/>
<path d="M740.0,600.0 C750.0,578.3 791.7,578.3 820.0,580.0 C848.3,581.7 893.3,591.7 910.0,610.0 C926.7,628.3 930.0,670.0 920.0,690.0 C910.0,710.0 876.7,726.7 850.0,730.0 C823.3,733.3 778.3,731.7 760.0,710.0 C741.7,688.3 730.0,621.7 740.0,600.0Z" fill="#8f8f8f"/>
<path d="M790.0,660.0 C798.3,651.7 845.0,645.0 860.0,650.0 C875.0,655.0 888.3,681.7 880.0,690.0 C871.7,698.3 825.0,705.0 810.0,700.0 C795.0,695.0 781.7,668.3 790.0,660.0Z" fill="#d1d1d1"/>
<path d="M270.0,710.0 C275.0,705.0 278.3,691.7 300.0,700.0 C321.7,708.3 370.0,735.0 400.0,760.0 C430.0,785.0 453.3,826.7 480.0,850.0 C506.7,873.3 530.0,883.3 560.0,900.0 C590.0,916.7 636.7,948.3 660.0,950.0 C683.3,951.7 686.7,908.3 700.0,910.0 C713.3,911.7 730.0,935.0 740.0,960.0 C750.0,985.0 740.0,1033.3 760.0,1060.0 C780.0,1086.7 831.7,1096.7 860.0,1120.0 C888.3,1143.3 906.7,1180.0 930.0,1200.0 C953.3,1220.0 981.7,1230.0 1000.0,1240.0 C1018.3,1250.0 1030.0,1245.0 1040.0,1260.0 C1050.0,1275.0 1053.3,1306.7 1060.0,1330.0 C1066.7,1353.3 1078.3,1376.7 1080.0,1400.0 C1081.7,1423.3 1078.3,1456.7 1070.0,1470.0 C1061.7,1483.3 1048.3,1488.3 1030.0,1480.0 C1011.7,1471.7 985.0,1436.7 960.0,1420.0 C935.0,1403.3 906.7,1388.3 880.0,1380.0 C853.3,1371.7 820.0,1383.3 800.0,1370.0 C780.0,1356.7 776.7,1328.3 760.0,1300.0 C743.3,1271.7 721.7,1230.0 700.0,1200.0 C678.3,1170.0 646.7,1146.7 630.0,1120.0 C613.3,1093.3 615.0,1063.3 600.0,1040.0 C585.0,1016.7 560.0,998.3 540.0,980.0 C520.0,961.7 500.0,950.0 480.0,930.0 C460.0,910.0 445.0,886.7 420.0,860.0 C395.0,833.3 355.0,791.7 330.0,770.0 C305.0,748.3 280.0,740.0 270.0,730.0 C260.0,720.0 265.0,715.0 270.0,710.0Z" fill="#dedede"/>
<path d="M430.0,1310.0 C434.2,1306.7 450.8,1306.7 455.0,1310.0 C459.2,1313.3 459.2,1326.7 455.0,1330.0 C450.8,1333.3 434.2,1333.3 430.0,1330.0 C425.8,1326.7 425.8,1313.3 430.0,1310.0Z" fill="#f2f2f2"/>
</g></g>
<rect x="244.50" y="271.50" width="33.50" height="5.00" fill="#fff"/>
</g>
<g transform="translate(357.00,405.50)" clip-path="url(#clip4)">
<rect x="0" y="0" width="286.00" height="286.00" fill="#000"/>
<g filter="url(#fire4)"><g transform="scale(0.18620,0.18620)">
</g></g><g filter="url(#fire4)"><g transform="scale(0.18620,0.18620)"><rect x="-40" y="-40" width="1616" height="1616" fill="#404040" fill-opacity="0.16"/></g></g><g filter="url(#fire4)"><g transform="scale(0.18620,0.18620)">
<path d="M0.0,270.0 C5.0,250.0 21.7,248.3 30.0,260.0 C38.3,271.7 55.0,320.0 50.0,340.0 C45.0,360.0 8.3,391.7 0.0,380.0 C-8.3,368.3 -5.0,290.0 0.0,270.0Z" fill="#424242"/>
<path d="M0.0,500.0 C10.0,446.7 38.3,473.3 60.0,440.0 C81.7,406.7 113.3,329.2 130.0,300.0 C146.7,270.8 146.7,268.3 160.0,265.0 C173.3,261.7 200.0,265.8 210.0,280.0 C220.0,294.2 220.0,321.7 220.0,350.0 C220.0,378.3 208.3,428.3 210.0,450.0 C211.7,471.7 233.3,461.7 230.0,480.0 C226.7,498.3 196.7,523.3 190.0,560.0 C183.3,596.7 186.7,663.3 190.0,700.0 C193.3,736.7 213.3,766.7 210.0,780.0 C206.7,793.3 180.0,788.3 170.0,780.0 C160.0,771.7 168.3,740.0 150.0,730.0 C131.7,720.0 85.0,715.0 60.0,720.0 C35.0,725.0 10.0,796.7 0.0,760.0 C-10.0,723.3 -10.0,553.3 0.0,500.0Z" fill="#4c4c4c"/>
<path d="M10.0,740.0 L80.0,730.0 L150.0,740.0 L190.0,770.0" fill="none" stroke="#cccccc" stroke-width="14" stroke-linecap="round" stroke-linejoin="round"/>
<path d="M700.0,340.0 C705.0,318.3 730.0,298.3 760.0,280.0 C790.0,261.7 845.0,235.0 880.0,230.0 C915.0,225.0 941.7,233.3 970.0,250.0 C998.3,266.7 1020.0,301.7 1050.0,330.0 C1080.0,358.3 1111.7,388.3 1150.0,420.0 C1188.3,451.7 1238.3,495.0 1280.0,520.0 C1321.7,545.0 1370.0,553.3 1400.0,570.0 C1430.0,586.7 1448.3,598.3 1460.0,620.0 C1471.7,641.7 1475.0,675.0 1470.0,700.0 C1465.0,725.0 1458.3,753.3 1430.0,770.0 C1401.7,786.7 1338.3,798.3 1300.0,800.0 C1261.7,801.7 1233.3,790.0 1200.0,780.0 C1166.7,770.0 1133.3,753.3 1100.0,740.0 C1066.7,726.7 1023.3,716.7 1000.0,700.0 C976.7,683.3 976.7,660.0 960.0,640.0 C943.3,620.0 921.7,595.0 900.0,580.0 C878.3,565.0 846.7,568.3 830.0,550.0 C813.3,531.7 816.7,493.3 800.0,470.0 C783.3,446.7 746.7,431.7 730.0,410.0 C713.3,388.3 695.0,361.7 700.0,340.0Z" fill="#6b6b6b"/>
<path d="M850.0,400.0 C886.7,393.3 1025.0,446.7 1100.0,480.0 C1175.0,513.3 1275.0,566.7 1300.0,600.0 C1325.0,633.3 1300.0,673.3 1250.0,680.0 C1200.0,686.7 1061.7,666.7 1000.0,640.0 C938.3,613.3 905.0,560.0 880.0,520.0 C855.0,480.0 813.3,406.7 850.0,400.0Z" fill="#808080" fill-opacity="0.70"/>
<path d="M610.0,600.0 C615.0,578.3 635.0,506.7 650.0,490.0 C665.0,473.3 678.3,485.0 700.0,500.0 C721.7,515.0 756.7,556.7 780.0,580.0 C803.3,603.3 811.7,616.7 840.0,640.0 C868.3,663.3 913.3,683.3 950.0,720.0 C986.7,756.7 1038.3,820.0 1060.0,860.0 C1081.7,900.0 1066.7,926.7 1080.0,960.0 C1093.3,993.3 1111.7,1028.3 1140.0,1060.0 C1168.3,1091.7 1230.0,1126.7 1250.0,1150.0 C1270.0,1173.3 1270.0,1190.0 1260.0,1200.0 C1250.0,1210.0 1216.7,1220.0 1190.0,1210.0 C1163.3,1200.0 1131.7,1161.7 1100.0,1140.0 C1068.3,1118.3 1028.3,1103.3 1000.0,1080.0 C971.7,1056.7 955.0,1030.0 930.0,1000.0 C905.0,970.0 875.0,936.7 850.0,900.0 C825.0,863.3 805.0,816.7 780.0,780.0 C755.0,743.3 726.7,706.7 700.0,680.0 C673.3,653.3 635.0,633.3 620.0,620.0 C605.0,606.7 605.0,621.7 610.0,600.0Z" fill="#757575"/>
<path d="M620.0,610.0 L700.0,660.0 L770.0,740.0 L820.0,840.0 L880.0,940.0 L960.0,1030.0 L1060.0,1090.0 L1160.0,1160.0 L1230.0,1200.0" fill="none" stroke="#d1d1d1" stroke-width="18" stroke-linecap="round" stroke-linejoin="round"/>
<path d="M400.0,700.0 C408.3,680.0 425.0,663.3 450.0,660.0 C475.0,656.7 525.0,656.7 550.0,680.0 C575.0,703.3 578.3,763.3 600.0,800.0 C621.7,836.7 648.3,866.7 680.0,900.0 C711.7,933.3 766.7,968.3 790.0,1000.0 C813.3,1031.7 835.0,1068.3 820.0,1090.0 C805.0,1111.7 733.3,1115.0 700.0,1130.0 C666.7,1145.0 646.7,1176.7 620.0,1180.0 C593.3,1183.3 565.0,1173.3 540.0,1150.0 C515.0,1126.7 490.0,1073.3 470.0,1040.0 C450.0,1006.7 433.3,976.7 420.0,950.0 C406.7,923.3 393.3,908.3 390.0,880.0 C386.7,851.7 398.3,810.0 400.0,780.0 C401.7,750.0 391.7,720.0 400.0,700.0Z" fill="#6b6b6b"/>
<path d="M140.0,1090.0 C146.7,1061.7 188.3,1028.3 200.0,1000.0 C211.7,971.7 201.7,938.3 210.0,920.0 C218.3,901.7 235.0,886.7 250.0,890.0 C265.0,893.3 278.3,916.7 300.0,940.0 C321.7,963.3 350.0,998.3 380.0,1030.0 C410.0,1061.7 443.3,1096.7 480.0,1130.0 C516.7,1163.3 575.0,1201.7 600.0,1230.0 C625.0,1258.3 633.3,1271.7 630.0,1300.0 C626.7,1328.3 601.7,1385.0 580.0,1400.0 C558.3,1415.0 530.0,1398.3 500.0,1390.0 C470.0,1381.7 433.3,1360.0 400.0,1350.0 C366.7,1340.0 333.3,1345.0 300.0,1330.0 C266.7,1315.0 223.3,1286.7 200.0,1260.0 C176.7,1233.3 170.0,1198.3 160.0,1170.0 C150.0,1141.7 133.3,1118.3 140.0,1090.0Z" fill="#8c8c8c"/>
<ellipse cx="325.0" cy="1165.0" rx="125.0" ry="90.0" transform="rotate(35.0 325.0 1165.0)" fill="#383838"/>
<ellipse cx="325.0" cy="1170.0" rx="100.0" ry="72.0" transform="rotate(35.0 325.0 1170.0)" fill="#242424"/>
<path d="M0.0,1290.0 C13.3,1260.0 60.0,1261.7 80.0,1270.0 C100.0,1278.3 118.3,1315.0 120.0,1340.0 C121.7,1365.0 110.0,1401.7 90.0,1420.0 C70.0,1438.3 15.0,1471.7 0.0,1450.0 C-15.0,1428.3 -13.3,1320.0 0.0,1290.0Z" fill="#737373"/>
<path d="M650.0,1340.0 C691.7,1304.0 850.0,1287.3 900.0,1320.0 C950.0,1352.7 991.7,1500.0 950.0,1536.0 C908.3,1572.0 700.0,1568.7 650.0,1536.0 C600.0,1503.3 608.3,1376.0 650.0,1340.0Z" fill="#404040" fill-opacity="0.45"/>
<path d="M1320.0,1130.0 C1345.0,1105.0 1464.0,1113.3 1500.0,1150.0 C1536.0,1186.7 1561.0,1325.0 1536.0,1350.0 C1511.0,1375.0 1386.0,1336.7 1350.0,1300.0 C1314.0,1263.3 1295.0,1155.0 1320.0,1130.0Z" fill="#4c4c4c" fill-opacity="0.45"/>
</g></g>
<rect x="239.00" y="271.50" width="33.00" height="5.00" fill="#fff"/>
</g>
<rect x="732.70" y="422.10" width="31.80" height="269.60" fill="url(#cbar)" stroke="#1c1c1c" stroke-width="2.6"/>
<text x="785.85" y="471.52" font-size="28.81" textLength="41.99" lengthAdjust="spacingAndGlyphs" font-weight="bold">2.5</text>
<text x="786.82" y="690.20" font-size="30.51" textLength="41.60" lengthAdjust="spacingAndGlyphs" font-weight="bold">0.8</text>
<g transform="translate(707.20,593.60) rotate(-90)"><text x="-1.25" y="0.00" font-size="42.59" textLength="29.30" lengthAdjust="spacingAndGlyphs" font-style="italic">R</text></g>
<g transform="translate(720.50,565.50) rotate(-90)"><text x="-0.53" y="-0.22" font-size="22.47" textLength="83.03" lengthAdjust="spacingAndGlyphs">400/488</text></g>
<text x="-1.73" y="846.30" font-size="61.15" textLength="33.18" lengthAdjust="spacingAndGlyphs" font-weight="bold">c</text>
<text x="256.62" y="846.51" font-size="40.03" textLength="180.26" lengthAdjust="spacingAndGlyphs" font-weight="bold">HeLa iNAP1</text>
<text x="164.95" y="899.30" font-size="31.21" textLength="54.84" lengthAdjust="spacingAndGlyphs">LUC</text>
<text x="444.88" y="899.27" font-size="33.90" textLength="26.29" lengthAdjust="spacingAndGlyphs" font-style="italic">Cr</text>
<text x="473.33" y="899.27" font-size="33.90" textLength="78.90" lengthAdjust="spacingAndGlyphs">GPDH</text>
<g transform="translate(44.90,1109.80) rotate(-90)"><text x="-3.06" y="0.00" font-size="38.52" textLength="93.25" lengthAdjust="spacingAndGlyphs">Basal</text></g>
<g transform="translate(44.50,1470.30) rotate(-90)"><text x="-1.58" y="0.00" font-size="37.43" textLength="234.21" lengthAdjust="spacingAndGlyphs">+ PYR - glucose</text></g>
<g transform="translate(68.75,920.50)" clip-path="url(#clip5)">
<rect x="0" y="0" width="286.25" height="285.75" fill="#000"/>
<g filter="url(#fire5)"><g transform="scale(0.18636,0.18604)">
</g></g><g filter="url(#fire5)"><g transform="scale(0.18636,0.18604)"><rect x="-40" y="-40" width="1616" height="1616" fill="#4c4c4c" fill-opacity="0.14"/></g></g><g filter="url(#fire5)"><g transform="scale(0.18636,0.18604)">
<path d="M330.0,190.0 C333.3,168.3 368.3,168.3 380.0,140.0 C391.7,111.7 388.3,43.3 400.0,20.0 C411.7,-3.3 393.3,3.3 450.0,0.0 C506.7,-3.3 681.7,-10.0 740.0,0.0 C798.3,10.0 785.0,36.7 800.0,60.0 C815.0,83.3 836.7,123.3 830.0,140.0 C823.3,156.7 778.3,146.7 760.0,160.0 C741.7,173.3 726.7,198.3 720.0,220.0 C713.3,241.7 731.7,271.7 720.0,290.0 C708.3,308.3 680.0,321.7 650.0,330.0 C620.0,338.3 578.3,343.3 540.0,340.0 C501.7,336.7 450.0,321.7 420.0,310.0 C390.0,298.3 375.0,290.0 360.0,270.0 C345.0,250.0 326.7,211.7 330.0,190.0Z" fill="#b2b2b2"/>
<path d="M830.0,30.0 C843.3,8.3 871.7,18.3 900.0,20.0 C928.3,21.7 958.3,36.7 1000.0,40.0 C1041.7,43.3 1106.7,36.7 1150.0,40.0 C1193.3,43.3 1228.3,46.7 1260.0,60.0 C1291.7,73.3 1320.0,100.0 1340.0,120.0 C1360.0,140.0 1373.3,150.0 1380.0,180.0 C1386.7,210.0 1385.0,266.7 1380.0,300.0 C1375.0,333.3 1371.7,370.0 1350.0,380.0 C1328.3,390.0 1283.3,370.0 1250.0,360.0 C1216.7,350.0 1178.3,325.0 1150.0,320.0 C1121.7,315.0 1101.7,326.7 1080.0,330.0 C1058.3,333.3 1040.0,341.7 1020.0,340.0 C1000.0,338.3 980.0,333.3 960.0,320.0 C940.0,306.7 915.0,280.0 900.0,260.0 C885.0,240.0 883.3,218.3 870.0,200.0 C856.7,181.7 826.7,178.3 820.0,150.0 C813.3,121.7 816.7,51.7 830.0,30.0Z" fill="#a8a8a8"/>
<path d="M980.0,340.0 C1000.0,320.0 1036.7,331.7 1040.0,350.0 C1043.3,368.3 1018.3,418.3 1000.0,450.0 C981.7,481.7 953.3,520.0 930.0,540.0 C906.7,560.0 873.3,573.3 860.0,570.0 C846.7,566.7 840.0,536.7 850.0,520.0 C860.0,503.3 898.3,500.0 920.0,470.0 C941.7,440.0 960.0,360.0 980.0,340.0Z" fill="#b8b8b8"/>
<path d="M0.0,500.0 C16.7,468.3 58.3,521.7 100.0,520.0 C141.7,518.3 200.0,496.7 250.0,490.0 C300.0,483.3 351.7,488.3 400.0,480.0 C448.3,471.7 506.7,445.0 540.0,440.0 C573.3,435.0 583.3,443.3 600.0,450.0 C616.7,456.7 636.7,466.7 640.0,480.0 C643.3,493.3 606.7,516.7 620.0,530.0 C633.3,543.3 680.0,558.3 720.0,560.0 C760.0,561.7 833.3,536.7 860.0,540.0 C886.7,543.3 890.0,570.0 880.0,580.0 C870.0,590.0 838.3,600.0 800.0,600.0 C761.7,600.0 696.7,576.7 650.0,580.0 C603.3,583.3 558.3,603.3 520.0,620.0 C481.7,636.7 450.0,656.7 420.0,680.0 C390.0,703.3 356.7,735.0 340.0,760.0 C323.3,785.0 321.7,798.3 320.0,830.0 C318.3,861.7 335.0,921.7 330.0,950.0 C325.0,978.3 305.0,993.3 290.0,1000.0 C275.0,1006.7 255.0,1006.7 240.0,990.0 C225.0,973.3 218.3,926.7 200.0,900.0 C181.7,873.3 143.3,853.3 130.0,830.0 C116.7,806.7 133.3,781.7 120.0,760.0 C106.7,738.3 70.0,708.3 50.0,700.0 C30.0,691.7 8.3,743.3 0.0,710.0 C-8.3,676.7 -16.7,531.7 0.0,500.0Z" fill="#999999"/>
<path d="M610.0,900.0 C608.3,881.7 625.0,860.0 640.0,830.0 C655.0,800.0 675.0,751.7 700.0,720.0 C725.0,688.3 760.0,660.0 790.0,640.0 C820.0,620.0 848.3,611.7 880.0,600.0 C911.7,588.3 955.0,566.7 980.0,570.0 C1005.0,573.3 1020.0,598.3 1030.0,620.0 C1040.0,641.7 1051.7,670.0 1040.0,700.0 C1028.3,730.0 991.7,770.0 960.0,800.0 C928.3,830.0 883.3,860.0 850.0,880.0 C816.7,900.0 793.3,910.0 760.0,920.0 C726.7,930.0 675.0,943.3 650.0,940.0 C625.0,936.7 611.7,918.3 610.0,900.0Z" fill="#949494"/>
<path d="M1100.0,760.0 C1111.7,733.3 1163.3,700.0 1200.0,680.0 C1236.7,660.0 1283.3,640.0 1320.0,640.0 C1356.7,640.0 1384.0,665.0 1420.0,680.0 C1456.0,695.0 1516.7,710.0 1536.0,730.0 C1555.3,750.0 1558.7,783.3 1536.0,800.0 C1513.3,816.7 1447.7,823.3 1400.0,830.0 C1352.3,836.7 1295.0,838.3 1250.0,840.0 C1205.0,841.7 1155.0,853.3 1130.0,840.0 C1105.0,826.7 1088.3,786.7 1100.0,760.0Z" fill="#a8a8a8"/>
<path d="M470.0,1080.0 C480.0,1068.3 521.7,1055.0 560.0,1040.0 C598.3,1025.0 663.3,1003.3 700.0,990.0 C736.7,976.7 756.7,958.3 780.0,960.0 C803.3,961.7 803.3,990.0 840.0,1000.0 C876.7,1010.0 956.7,1011.7 1000.0,1020.0 C1043.3,1028.3 1066.7,1031.7 1100.0,1050.0 C1133.3,1068.3 1166.7,1105.0 1200.0,1130.0 C1233.3,1155.0 1276.7,1171.7 1300.0,1200.0 C1323.3,1228.3 1328.3,1266.7 1340.0,1300.0 C1351.7,1333.3 1365.0,1360.7 1370.0,1400.0 C1375.0,1439.3 1400.0,1513.3 1370.0,1536.0 C1340.0,1558.7 1218.3,1558.7 1190.0,1536.0 C1161.7,1513.3 1201.7,1441.0 1200.0,1400.0 C1198.3,1359.0 1205.0,1308.3 1180.0,1290.0 C1155.0,1271.7 1096.7,1296.7 1050.0,1290.0 C1003.3,1283.3 941.7,1265.0 900.0,1250.0 C858.3,1235.0 833.3,1213.3 800.0,1200.0 C766.7,1186.7 733.3,1180.0 700.0,1170.0 C666.7,1160.0 633.3,1150.0 600.0,1140.0 C566.7,1130.0 521.7,1120.0 500.0,1110.0 C478.3,1100.0 460.0,1091.7 470.0,1080.0Z" fill="#a8a8a8"/>
<path d="M700.0,1110.0 C733.3,1096.7 930.0,1101.7 1000.0,1120.0 C1070.0,1138.3 1120.0,1196.7 1120.0,1220.0 C1120.0,1243.3 1053.3,1263.3 1000.0,1260.0 C946.7,1256.7 850.0,1225.0 800.0,1200.0 C750.0,1175.0 666.7,1123.3 700.0,1110.0Z" fill="#d1d1d1" fill-opacity="0.80"/>
<path d="M0.0,1400.0 C10.0,1382.3 45.0,1407.3 60.0,1430.0 C75.0,1452.7 100.0,1518.3 90.0,1536.0 C80.0,1553.7 15.0,1558.7 0.0,1536.0 C-15.0,1513.3 -10.0,1417.7 0.0,1400.0Z" fill="#595959"/>
<path d="M1470.0,1460.0 C1484.3,1440.7 1525.0,1407.3 1536.0,1420.0 C1547.0,1432.7 1550.3,1516.7 1536.0,1536.0 C1521.7,1555.3 1461.0,1548.7 1450.0,1536.0 C1439.0,1523.3 1455.7,1479.3 1470.0,1460.0Z" fill="#595959"/>
</g></g>
<rect x="237.25" y="267.00" width="33.50" height="5.00" fill="#fff"/>
</g>
<g transform="translate(364.50,920.50)" clip-path="url(#clip6)">
<rect x="0" y="0" width="286.25" height="285.75" fill="#000"/>
<g filter="url(#fire6)"><g transform="scale(0.18636,0.18604)">
</g></g><g filter="url(#fire6)"><g transform="scale(0.18636,0.18604)"><rect x="-40" y="-40" width="1616" height="1616" fill="#4c4c4c" fill-opacity="0.16"/></g></g><g filter="url(#fire6)"><g transform="scale(0.18636,0.18604)">
<path d="M260.0,30.0 C256.7,11.7 236.7,5.0 280.0,0.0 C323.3,-5.0 466.7,-6.7 520.0,0.0 C573.3,6.7 593.3,23.3 600.0,40.0 C606.7,56.7 580.0,83.3 560.0,100.0 C540.0,116.7 510.0,133.3 480.0,140.0 C450.0,146.7 410.0,145.0 380.0,140.0 C350.0,135.0 320.0,128.3 300.0,110.0 C280.0,91.7 263.3,48.3 260.0,30.0Z" fill="#8c8c8c"/>
<path d="M680.0,630.0 C681.7,610.0 711.7,575.0 730.0,540.0 C748.3,505.0 771.7,466.7 790.0,420.0 C808.3,373.3 815.0,306.7 840.0,260.0 C865.0,213.3 903.3,173.3 940.0,140.0 C976.7,106.7 1023.3,80.0 1060.0,60.0 C1096.7,40.0 1130.0,28.3 1160.0,20.0 C1190.0,11.7 1221.7,0.0 1240.0,10.0 C1258.3,20.0 1273.3,51.7 1270.0,80.0 C1266.7,108.3 1236.7,143.3 1220.0,180.0 C1203.3,216.7 1186.7,263.3 1170.0,300.0 C1153.3,336.7 1141.7,375.0 1120.0,400.0 C1098.3,425.0 1066.7,430.0 1040.0,450.0 C1013.3,470.0 986.7,493.3 960.0,520.0 C933.3,546.7 906.7,586.7 880.0,610.0 C853.3,633.3 826.7,651.7 800.0,660.0 C773.3,668.3 740.0,665.0 720.0,660.0 C700.0,655.0 678.3,650.0 680.0,630.0Z" fill="#b2b2b2"/>
<path d="M0.0,540.0 C10.0,496.7 35.0,530.0 60.0,540.0 C85.0,550.0 116.7,580.0 150.0,600.0 C183.3,620.0 231.7,626.7 260.0,660.0 C288.3,693.3 300.0,760.0 320.0,800.0 C340.0,840.0 363.3,858.3 380.0,900.0 C396.7,941.7 416.7,1008.3 420.0,1050.0 C423.3,1091.7 415.0,1128.3 400.0,1150.0 C385.0,1171.7 355.0,1183.3 330.0,1180.0 C305.0,1176.7 280.0,1160.0 250.0,1130.0 C220.0,1100.0 181.7,1041.7 150.0,1000.0 C118.3,958.3 85.0,913.3 60.0,880.0 C35.0,846.7 10.0,856.7 0.0,800.0 C-10.0,743.3 -10.0,583.3 0.0,540.0Z" fill="#adadad" fill-opacity="0.62"/>
<path d="M460.0,930.0 C468.3,905.0 503.3,878.3 520.0,850.0 C536.7,821.7 543.3,778.3 560.0,760.0 C576.7,741.7 596.7,738.3 620.0,740.0 C643.3,741.7 673.3,773.3 700.0,770.0 C726.7,766.7 756.7,738.3 780.0,720.0 C803.3,701.7 820.0,676.7 840.0,660.0 C860.0,643.3 893.3,613.3 900.0,620.0 C906.7,626.7 893.3,673.3 880.0,700.0 C866.7,726.7 833.3,746.7 820.0,780.0 C806.7,813.3 803.3,863.3 800.0,900.0 C796.7,936.7 806.7,966.7 800.0,1000.0 C793.3,1033.3 776.7,1070.0 760.0,1100.0 C743.3,1130.0 723.3,1160.0 700.0,1180.0 C676.7,1200.0 646.7,1208.3 620.0,1220.0 C593.3,1231.7 561.7,1253.3 540.0,1250.0 C518.3,1246.7 501.7,1225.0 490.0,1200.0 C478.3,1175.0 473.3,1133.3 470.0,1100.0 C466.7,1066.7 471.7,1028.3 470.0,1000.0 C468.3,971.7 451.7,955.0 460.0,930.0Z" fill="#c2c2c2"/>
<path d="M650.0,1360.0 C646.7,1326.7 668.3,1285.0 680.0,1250.0 C691.7,1215.0 703.3,1180.0 720.0,1150.0 C736.7,1120.0 763.3,1091.7 780.0,1070.0 C796.7,1048.3 806.7,1015.0 820.0,1020.0 C833.3,1025.0 850.0,1061.7 860.0,1100.0 C870.0,1138.3 873.3,1200.0 880.0,1250.0 C886.7,1300.0 900.0,1352.3 900.0,1400.0 C900.0,1447.7 901.7,1513.3 880.0,1536.0 C858.3,1558.7 800.0,1550.3 770.0,1536.0 C740.0,1521.7 720.0,1479.3 700.0,1450.0 C680.0,1420.7 653.3,1393.3 650.0,1360.0Z" fill="#b2b2b2"/>
<path d="M1100.0,760.0 C1108.3,728.3 1130.0,716.7 1150.0,710.0 C1170.0,703.3 1186.7,708.3 1220.0,720.0 C1253.3,731.7 1311.7,758.3 1350.0,780.0 C1388.3,801.7 1428.3,821.7 1450.0,850.0 C1471.7,878.3 1480.0,911.7 1480.0,950.0 C1480.0,988.3 1463.3,1046.7 1450.0,1080.0 C1436.7,1113.3 1425.0,1121.7 1400.0,1150.0 C1375.0,1178.3 1328.3,1233.3 1300.0,1250.0 C1271.7,1266.7 1250.0,1266.7 1230.0,1250.0 C1210.0,1233.3 1198.3,1188.3 1180.0,1150.0 C1161.7,1111.7 1133.3,1061.7 1120.0,1020.0 C1106.7,978.3 1103.3,943.3 1100.0,900.0 C1096.7,856.7 1091.7,791.7 1100.0,760.0Z" fill="#999999"/>
<path d="M1200.0,560.0 C1220.0,545.0 1278.3,531.7 1320.0,530.0 C1361.7,528.3 1414.0,545.0 1450.0,550.0 C1486.0,555.0 1521.7,535.0 1536.0,560.0 C1550.3,585.0 1550.3,676.7 1536.0,700.0 C1521.7,723.3 1489.3,706.7 1450.0,700.0 C1410.7,693.3 1341.7,673.3 1300.0,660.0 C1258.3,646.7 1216.7,636.7 1200.0,620.0 C1183.3,603.3 1180.0,575.0 1200.0,560.0Z" fill="#737373" fill-opacity="0.55"/>
<path d="M0.0,1220.0 C10.0,1164.0 26.7,1190.0 60.0,1200.0 C93.3,1210.0 151.7,1250.0 200.0,1280.0 C248.3,1310.0 310.0,1351.7 350.0,1380.0 C390.0,1408.3 423.3,1424.0 440.0,1450.0 C456.7,1476.0 523.3,1521.7 450.0,1536.0 C376.7,1550.3 75.0,1588.7 0.0,1536.0 C-75.0,1483.3 -10.0,1276.0 0.0,1220.0Z" fill="#a8a8a8" fill-opacity="0.60"/>
<path d="M1040.0,1480.0 C1050.0,1460.7 1073.3,1436.7 1100.0,1420.0 C1126.7,1403.3 1166.7,1388.3 1200.0,1380.0 C1233.3,1371.7 1266.7,1370.0 1300.0,1370.0 C1333.3,1370.0 1380.0,1366.7 1400.0,1380.0 C1420.0,1393.3 1423.3,1424.0 1420.0,1450.0 C1416.7,1476.0 1443.3,1521.7 1380.0,1536.0 C1316.7,1550.3 1096.7,1545.3 1040.0,1536.0 C983.3,1526.7 1030.0,1499.3 1040.0,1480.0Z" fill="#9e9e9e"/>
</g></g>
<rect x="235.50" y="267.00" width="33.75" height="5.00" fill="#fff"/>
</g>
<g transform="translate(68.75,1216.25)" clip-path="url(#clip7)">
<rect x="0" y="0" width="286.25" height="285.75" fill="#000"/>
<g filter="url(#fire7)"><g transform="scale(0.18636,0.18604)">
</g></g><g filter="url(#fire7)"><g transform="scale(0.18636,0.18604)"><rect x="-40" y="-40" width="1616" height="1616" fill="#404040" fill-opacity="0.22"/></g></g><g filter="url(#fire7)"><g transform="scale(0.18636,0.18604)">
<path d="M170.0,80.0 C173.3,58.3 170.0,33.3 200.0,20.0 C230.0,6.7 300.0,3.3 350.0,0.0 C400.0,-3.3 473.3,-16.7 500.0,0.0 C526.7,16.7 510.0,70.0 510.0,100.0 C510.0,130.0 485.0,163.3 500.0,180.0 C515.0,196.7 566.7,193.3 600.0,200.0 C633.3,206.7 676.7,206.7 700.0,220.0 C723.3,233.3 730.0,260.0 740.0,280.0 C750.0,300.0 760.0,316.7 760.0,340.0 C760.0,363.3 758.3,398.3 740.0,420.0 C721.7,441.7 680.0,453.3 650.0,470.0 C620.0,486.7 593.3,508.3 560.0,520.0 C526.7,531.7 485.0,538.3 450.0,540.0 C415.0,541.7 383.3,535.0 350.0,530.0 C316.7,525.0 278.3,518.3 250.0,510.0 C221.7,501.7 193.3,510.0 180.0,480.0 C166.7,450.0 161.7,366.7 170.0,330.0 C178.3,293.3 228.3,290.0 230.0,260.0 C231.7,230.0 190.0,180.0 180.0,150.0 C170.0,120.0 166.7,101.7 170.0,80.0Z" fill="#383838"/>
<path d="M175.0,100.0 L200.0,160.0 L260.0,220.0 L330.0,250.0" fill="none" stroke="#bfbfbf" stroke-width="14" stroke-linecap="round" stroke-linejoin="round"/>
<path d="M190.0,480.0 L260.0,510.0 L380.0,530.0 L500.0,520.0 L600.0,480.0" fill="none" stroke="#bfbfbf" stroke-width="18" stroke-linecap="round" stroke-linejoin="round"/>
<path d="M280.0,300.0 C308.3,276.7 438.3,260.0 500.0,260.0 C561.7,260.0 626.7,273.3 650.0,300.0 C673.3,326.7 668.3,395.0 640.0,420.0 C611.7,445.0 531.7,453.3 480.0,450.0 C428.3,446.7 363.3,425.0 330.0,400.0 C296.7,375.0 251.7,323.3 280.0,300.0Z" fill="#4c4c4c"/>
<path d="M760.0,480.0 C760.0,468.3 780.0,445.0 800.0,420.0 C820.0,395.0 855.0,356.7 880.0,330.0 C905.0,303.3 926.7,291.7 950.0,260.0 C973.3,228.3 986.7,161.7 1020.0,140.0 C1053.3,118.3 1103.3,128.3 1150.0,130.0 C1196.7,131.7 1250.0,150.0 1300.0,150.0 C1350.0,150.0 1410.7,135.0 1450.0,130.0 C1489.3,125.0 1521.7,101.7 1536.0,120.0 C1550.3,138.3 1567.0,216.7 1536.0,240.0 C1505.0,263.3 1406.0,245.0 1350.0,260.0 C1294.0,275.0 1250.0,310.0 1200.0,330.0 C1150.0,350.0 1100.0,361.7 1050.0,380.0 C1000.0,398.3 941.7,421.7 900.0,440.0 C858.3,458.3 823.3,483.3 800.0,490.0 C776.7,496.7 760.0,491.7 760.0,480.0Z" fill="#545454"/>
<path d="M780.0,480.0 L900.0,430.0 L1050.0,370.0 L1200.0,320.0 L1350.0,260.0 L1536.0,235.0" fill="none" stroke="#d9d9d9" stroke-width="14" stroke-linecap="round" stroke-linejoin="round"/>
<path d="M190.0,620.0 C195.0,596.7 206.7,570.0 250.0,560.0 C293.3,550.0 391.7,553.3 450.0,560.0 C508.3,566.7 568.3,576.7 600.0,600.0 C631.7,623.3 643.3,666.7 640.0,700.0 C636.7,733.3 611.7,778.3 580.0,800.0 C548.3,821.7 496.7,833.3 450.0,830.0 C403.3,826.7 338.3,801.7 300.0,780.0 C261.7,758.3 238.3,726.7 220.0,700.0 C201.7,673.3 185.0,643.3 190.0,620.0Z" fill="#3d3d3d" fill-opacity="0.60"/>
<path d="M0.0,700.0 C25.0,660.0 103.3,730.0 150.0,760.0 C196.7,790.0 238.3,848.3 280.0,880.0 C321.7,911.7 368.3,921.7 400.0,950.0 C431.7,978.3 458.3,1000.0 470.0,1050.0 C481.7,1100.0 490.0,1211.7 470.0,1250.0 C450.0,1288.3 386.7,1288.3 350.0,1280.0 C313.3,1271.7 275.0,1230.0 250.0,1200.0 C225.0,1170.0 225.0,1125.0 200.0,1100.0 C175.0,1075.0 133.3,1066.7 100.0,1050.0 C66.7,1033.3 16.7,1058.3 0.0,1000.0 C-16.7,941.7 -25.0,740.0 0.0,700.0Z" fill="#3d3d3d" fill-opacity="0.56"/>
<path d="M520.0,1150.0 C516.7,1121.7 516.7,1041.7 530.0,1000.0 C543.3,958.3 568.3,928.3 600.0,900.0 C631.7,871.7 678.3,853.3 720.0,830.0 C761.7,806.7 810.0,781.7 850.0,760.0 C890.0,738.3 936.7,701.7 960.0,700.0 C983.3,698.3 993.3,725.0 990.0,750.0 C986.7,775.0 958.3,816.7 940.0,850.0 C921.7,883.3 905.0,923.3 880.0,950.0 C855.0,976.7 820.0,991.7 790.0,1010.0 C760.0,1028.3 731.7,1036.7 700.0,1060.0 C668.3,1083.3 625.0,1131.7 600.0,1150.0 C575.0,1168.3 563.3,1170.0 550.0,1170.0 C536.7,1170.0 523.3,1178.3 520.0,1150.0Z" fill="#545454"/>
<path d="M1000.0,1050.0 C1000.0,1023.3 1033.3,941.7 1050.0,900.0 C1066.7,858.3 1075.0,836.7 1100.0,800.0 C1125.0,763.3 1166.7,723.3 1200.0,680.0 C1233.3,636.7 1276.7,560.0 1300.0,540.0 C1323.3,520.0 1340.0,533.3 1340.0,560.0 C1340.0,586.7 1311.7,656.7 1300.0,700.0 C1288.3,743.3 1286.7,786.7 1270.0,820.0 C1253.3,853.3 1228.3,873.3 1200.0,900.0 C1171.7,926.7 1125.0,953.3 1100.0,980.0 C1075.0,1006.7 1066.7,1048.3 1050.0,1060.0 C1033.3,1071.7 1000.0,1076.7 1000.0,1050.0Z" fill="#4c4c4c"/>
<path d="M540.0,1350.0 C546.7,1316.7 573.3,1253.3 600.0,1220.0 C626.7,1186.7 658.3,1170.0 700.0,1150.0 C741.7,1130.0 800.0,1115.0 850.0,1100.0 C900.0,1085.0 958.3,1063.3 1000.0,1060.0 C1041.7,1056.7 1075.0,1056.7 1100.0,1080.0 C1125.0,1103.3 1150.0,1155.0 1150.0,1200.0 C1150.0,1245.0 1125.0,1316.7 1100.0,1350.0 C1075.0,1383.3 1033.3,1383.3 1000.0,1400.0 C966.7,1416.7 933.3,1436.7 900.0,1450.0 C866.7,1463.3 841.7,1475.0 800.0,1480.0 C758.3,1485.0 690.0,1490.0 650.0,1480.0 C610.0,1470.0 578.3,1441.7 560.0,1420.0 C541.7,1398.3 533.3,1383.3 540.0,1350.0Z" fill="#3d3d3d" fill-opacity="0.66"/>
<path d="M1450.0,1536.0 C1444.0,1520.0 1485.7,1459.3 1500.0,1440.0 C1514.3,1420.7 1530.0,1404.0 1536.0,1420.0 C1542.0,1436.0 1550.3,1516.7 1536.0,1536.0 C1521.7,1555.3 1456.0,1552.0 1450.0,1536.0Z" fill="#8c8c8c"/>
<path d="M1000.0,1536.0 C991.7,1513.3 1025.0,1426.0 1050.0,1400.0 C1075.0,1374.0 1141.7,1357.3 1150.0,1380.0 C1158.3,1402.7 1125.0,1510.0 1100.0,1536.0 C1075.0,1562.0 1008.3,1558.7 1000.0,1536.0Z" fill="#242424" fill-opacity="0.50"/>
</g></g>
<rect x="237.50" y="266.25" width="33.25" height="4.50" fill="#fff"/>
</g>
<g transform="translate(364.50,1216.25)" clip-path="url(#clip8)">
<rect x="0" y="0" width="286.25" height="285.75" fill="#000"/>
<g filter="url(#fire8)"><g transform="scale(0.18636,0.18604)">
</g></g><g filter="url(#fire8)"><g transform="scale(0.18636,0.18604)"><rect x="-40" y="-40" width="1616" height="1616" fill="#404040" fill-opacity="0.18"/></g></g><g filter="url(#fire8)"><g transform="scale(0.18636,0.18604)">
<path d="M200.0,0.0 C231.7,-11.7 370.0,-5.0 400.0,0.0 C430.0,5.0 400.0,23.3 380.0,30.0 C360.0,36.7 308.3,33.3 280.0,40.0 C251.7,46.7 223.3,76.7 210.0,70.0 C196.7,63.3 168.3,11.7 200.0,0.0Z" fill="#424242"/>
<path d="M1040.0,0.0 C1046.7,-13.3 1063.3,-13.3 1090.0,0.0 C1116.7,13.3 1158.3,56.7 1200.0,80.0 C1241.7,103.3 1308.3,116.7 1340.0,140.0 C1371.7,163.3 1380.0,188.3 1390.0,220.0 C1400.0,251.7 1408.3,306.7 1400.0,330.0 C1391.7,353.3 1365.0,361.7 1340.0,360.0 C1315.0,358.3 1281.7,340.0 1250.0,320.0 C1218.3,300.0 1176.7,266.7 1150.0,240.0 C1123.3,213.3 1106.7,186.7 1090.0,160.0 C1073.3,133.3 1058.3,106.7 1050.0,80.0 C1041.7,53.3 1033.3,13.3 1040.0,0.0Z" fill="#424242"/>
<path d="M1070.0,40.0 L1130.0,160.0 L1230.0,250.0 L1320.0,320.0" fill="none" stroke="#999999" stroke-width="14" stroke-linecap="round" stroke-linejoin="round"/>
<path d="M300.0,500.0 C303.3,473.3 325.0,443.3 350.0,420.0 C375.0,396.7 421.7,370.0 450.0,360.0 C478.3,350.0 495.0,346.7 520.0,360.0 C545.0,373.3 590.0,406.7 600.0,440.0 C610.0,473.3 576.7,520.0 580.0,560.0 C583.3,600.0 610.0,655.0 620.0,680.0 C630.0,705.0 656.7,700.0 640.0,710.0 C623.3,720.0 550.0,741.7 520.0,740.0 C490.0,738.3 483.3,716.7 460.0,700.0 C436.7,683.3 401.7,660.0 380.0,640.0 C358.3,620.0 343.3,603.3 330.0,580.0 C316.7,556.7 296.7,526.7 300.0,500.0Z" fill="#525252"/>
<path d="M720.0,430.0 C720.0,421.7 770.0,411.7 800.0,410.0 C830.0,408.3 866.7,420.0 900.0,420.0 C933.3,420.0 976.7,400.0 1000.0,410.0 C1023.3,420.0 1036.7,451.7 1040.0,480.0 C1043.3,508.3 1033.3,550.0 1020.0,580.0 C1006.7,610.0 983.3,640.0 960.0,660.0 C936.7,680.0 895.0,710.0 880.0,700.0 C865.0,690.0 875.0,633.3 870.0,600.0 C865.0,566.7 861.7,523.3 850.0,500.0 C838.3,476.7 821.7,471.7 800.0,460.0 C778.3,448.3 720.0,438.3 720.0,430.0Z" fill="#545454" fill-opacity="0.62"/>
<path d="M920.0,800.0 C923.3,775.0 961.7,761.7 1000.0,750.0 C1038.3,738.3 1100.0,725.0 1150.0,730.0 C1200.0,735.0 1266.7,760.0 1300.0,780.0 C1333.3,800.0 1350.0,821.7 1350.0,850.0 C1350.0,878.3 1316.7,925.0 1300.0,950.0 C1283.3,975.0 1275.0,990.0 1250.0,1000.0 C1225.0,1010.0 1183.3,1016.7 1150.0,1010.0 C1116.7,1003.3 1078.3,978.3 1050.0,960.0 C1021.7,941.7 1001.7,926.7 980.0,900.0 C958.3,873.3 916.7,825.0 920.0,800.0Z" fill="#424242" fill-opacity="0.62"/>
<path d="M1000.0,880.0 C1008.3,871.7 1116.7,891.7 1150.0,900.0 C1183.3,908.3 1208.3,921.7 1200.0,930.0 C1191.7,938.3 1133.3,958.3 1100.0,950.0 C1066.7,941.7 991.7,888.3 1000.0,880.0Z" fill="#808080"/>
<path d="M40.0,1000.0 C43.3,976.7 56.7,938.3 80.0,920.0 C103.3,901.7 143.3,886.7 180.0,890.0 C216.7,893.3 271.7,921.7 300.0,940.0 C328.3,958.3 341.7,973.3 350.0,1000.0 C358.3,1026.7 366.7,1076.7 350.0,1100.0 C333.3,1123.3 283.3,1140.0 250.0,1140.0 C216.7,1140.0 181.7,1113.3 150.0,1100.0 C118.3,1086.7 78.3,1076.7 60.0,1060.0 C41.7,1043.3 36.7,1023.3 40.0,1000.0Z" fill="#424242"/>
<ellipse cx="195.0" cy="1010.0" rx="45.0" ry="40.0" transform="rotate(0.0 195.0 1010.0)" fill="#757575"/>
<path d="M0.0,1300.0 C16.7,1266.7 66.7,1253.3 100.0,1240.0 C133.3,1226.7 166.7,1215.0 200.0,1220.0 C233.3,1225.0 291.7,1243.3 300.0,1270.0 C308.3,1296.7 275.0,1355.0 250.0,1380.0 C225.0,1405.0 183.3,1408.3 150.0,1420.0 C116.7,1431.7 75.0,1446.7 50.0,1450.0 C25.0,1453.3 8.3,1465.0 0.0,1440.0 C-8.3,1415.0 -16.7,1333.3 0.0,1300.0Z" fill="#333333" fill-opacity="0.60"/>
<path d="M0.0,1400.0 C13.3,1382.3 65.0,1407.3 80.0,1430.0 C95.0,1452.7 103.3,1518.3 90.0,1536.0 C76.7,1553.7 15.0,1558.7 0.0,1536.0 C-15.0,1513.3 -13.3,1417.7 0.0,1400.0Z" fill="#262626"/>
<path d="M700.0,1200.0 C715.0,1166.7 766.7,1133.3 800.0,1120.0 C833.3,1106.7 873.3,1106.7 900.0,1120.0 C926.7,1133.3 948.3,1161.7 960.0,1200.0 C971.7,1238.3 973.3,1306.7 970.0,1350.0 C966.7,1393.3 961.7,1438.3 940.0,1460.0 C918.3,1481.7 870.0,1486.7 840.0,1480.0 C810.0,1473.3 781.7,1446.7 760.0,1420.0 C738.3,1393.3 720.0,1356.7 710.0,1320.0 C700.0,1283.3 685.0,1233.3 700.0,1200.0Z" fill="#4c4c4c" fill-opacity="0.62"/>
<path d="M1120.0,1150.0 C1133.3,1118.3 1166.7,1076.7 1200.0,1060.0 C1233.3,1043.3 1283.3,1043.3 1320.0,1050.0 C1356.7,1056.7 1400.0,1075.0 1420.0,1100.0 C1440.0,1125.0 1443.3,1166.7 1440.0,1200.0 C1436.7,1233.3 1415.0,1273.3 1400.0,1300.0 C1385.0,1326.7 1375.0,1346.7 1350.0,1360.0 C1325.0,1373.3 1283.3,1383.3 1250.0,1380.0 C1216.7,1376.7 1171.7,1361.7 1150.0,1340.0 C1128.3,1318.3 1125.0,1281.7 1120.0,1250.0 C1115.0,1218.3 1106.7,1181.7 1120.0,1150.0Z" fill="#545454" fill-opacity="0.66"/>
<path d="M1100.0,1400.0 C1125.0,1385.7 1177.3,1450.0 1250.0,1450.0 C1322.7,1450.0 1488.3,1385.7 1536.0,1400.0 C1583.7,1414.3 1608.7,1513.3 1536.0,1536.0 C1463.3,1558.7 1172.7,1558.7 1100.0,1536.0 C1027.3,1513.3 1075.0,1414.3 1100.0,1400.0Z" fill="#424242" fill-opacity="0.45"/>
<path d="M420.0,1380.0 C436.7,1354.0 496.7,1354.0 520.0,1380.0 C543.3,1406.0 576.7,1510.0 560.0,1536.0 C543.3,1562.0 443.3,1562.0 420.0,1536.0 C396.7,1510.0 403.3,1406.0 420.0,1380.0Z" fill="#424242" fill-opacity="0.45"/>
</g></g>
<rect x="235.50" y="266.25" width="33.50" height="4.50" fill="#fff"/>
</g>
<rect x="733.30" y="1233.00" width="32.30" height="269.40" fill="url(#cbar)" stroke="#1c1c1c" stroke-width="2.6"/>
<text x="787.17" y="1282.70" font-size="30.96" textLength="40.28" lengthAdjust="spacingAndGlyphs" font-weight="bold">1.4</text>
<text x="787.81" y="1502.21" font-size="29.80" textLength="41.96" lengthAdjust="spacingAndGlyphs" font-weight="bold">0.4</text>
<g transform="translate(707.40,1425.30) rotate(-90)"><text x="-1.25" y="0.00" font-size="42.01" textLength="29.30" lengthAdjust="spacingAndGlyphs" font-style="italic">R</text></g>
<g transform="translate(721.00,1397.50) rotate(-90)"><text x="-0.53" y="-0.23" font-size="23.15" textLength="84.04" lengthAdjust="spacingAndGlyphs">400/488</text></g>
<line x1="1020.10" y1="190.80" x2="1020.10" y2="597.50" stroke="#000" stroke-width="3.0"/>
<line x1="998.00" y1="576.30" x2="1020.10" y2="576.30" stroke="#000" stroke-width="3.0"/>
<line x1="998.00" y1="537.88" x2="1020.10" y2="537.88" stroke="#000" stroke-width="3.0"/>
<line x1="998.00" y1="499.46" x2="1020.10" y2="499.46" stroke="#000" stroke-width="3.0"/>
<line x1="998.00" y1="461.04" x2="1020.10" y2="461.04" stroke="#000" stroke-width="3.0"/>
<line x1="998.00" y1="422.62" x2="1020.10" y2="422.62" stroke="#000" stroke-width="3.0"/>
<line x1="998.00" y1="384.20" x2="1020.10" y2="384.20" stroke="#000" stroke-width="3.0"/>
<line x1="998.00" y1="345.78" x2="1020.10" y2="345.78" stroke="#000" stroke-width="3.0"/>
<line x1="998.00" y1="307.36" x2="1020.10" y2="307.36" stroke="#000" stroke-width="3.0"/>
<line x1="998.00" y1="268.94" x2="1020.10" y2="268.94" stroke="#000" stroke-width="3.0"/>
<line x1="998.00" y1="230.52" x2="1020.10" y2="230.52" stroke="#000" stroke-width="3.0"/>
<line x1="998.00" y1="192.10" x2="1020.10" y2="192.10" stroke="#000" stroke-width="3.0"/>
<line x1="998.00" y1="576.30" x2="1212.50" y2="576.30" stroke="#000" stroke-width="3.0"/>
<line x1="1259.50" y1="576.30" x2="1460.00" y2="576.30" stroke="#000" stroke-width="3.0"/>
<line x1="1197.50" y1="590.50" x2="1227.00" y2="561.25" stroke="#000" stroke-width="3.0"/>
<line x1="1245.00" y1="590.50" x2="1274.50" y2="561.25" stroke="#000" stroke-width="3.0"/>
<line x1="1020.10" y1="576.30" x2="1020.10" y2="597.80" stroke="#000" stroke-width="3.0"/>
<line x1="1039.38" y1="576.30" x2="1039.38" y2="587.80" stroke="#000" stroke-width="3.0"/>
<line x1="1058.65" y1="576.30" x2="1058.65" y2="597.80" stroke="#000" stroke-width="3.0"/>
<line x1="1077.92" y1="576.30" x2="1077.92" y2="587.80" stroke="#000" stroke-width="3.0"/>
<line x1="1097.20" y1="576.30" x2="1097.20" y2="597.80" stroke="#000" stroke-width="3.0"/>
<line x1="1116.47" y1="576.30" x2="1116.47" y2="587.80" stroke="#000" stroke-width="3.0"/>
<line x1="1135.75" y1="576.30" x2="1135.75" y2="597.80" stroke="#000" stroke-width="3.0"/>
<line x1="1155.03" y1="576.30" x2="1155.03" y2="587.80" stroke="#000" stroke-width="3.0"/>
<line x1="1174.30" y1="576.30" x2="1174.30" y2="597.80" stroke="#000" stroke-width="3.0"/>
<line x1="1193.58" y1="576.30" x2="1193.58" y2="587.80" stroke="#000" stroke-width="3.0"/>
<line x1="1275.98" y1="576.30" x2="1275.98" y2="591.30" stroke="#000" stroke-width="3.0"/>
<line x1="1292.55" y1="576.30" x2="1292.55" y2="604.80" stroke="#000" stroke-width="3.0"/>
<line x1="1309.12" y1="576.30" x2="1309.12" y2="591.30" stroke="#000" stroke-width="3.0"/>
<line x1="1325.70" y1="576.30" x2="1325.70" y2="604.80" stroke="#000" stroke-width="3.0"/>
<line x1="1342.28" y1="576.30" x2="1342.28" y2="591.30" stroke="#000" stroke-width="3.0"/>
<line x1="1358.85" y1="576.30" x2="1358.85" y2="604.80" stroke="#000" stroke-width="3.0"/>
<line x1="1375.43" y1="576.30" x2="1375.43" y2="591.30" stroke="#000" stroke-width="3.0"/>
<line x1="1392.00" y1="576.30" x2="1392.00" y2="604.80" stroke="#000" stroke-width="3.0"/>
<line x1="1408.58" y1="576.30" x2="1408.58" y2="591.30" stroke="#000" stroke-width="3.0"/>
<line x1="1425.15" y1="576.30" x2="1425.15" y2="604.80" stroke="#000" stroke-width="3.0"/>
<line x1="1441.73" y1="576.30" x2="1441.73" y2="591.30" stroke="#000" stroke-width="3.0"/>
<line x1="1458.30" y1="576.30" x2="1458.30" y2="604.80" stroke="#000" stroke-width="3.0"/>
<polyline points="1020.10,484.09 1039.38,514.06 1058.65,514.06 1077.92,514.06 1097.20,514.06 1116.47,514.06 1135.75,514.06 1155.03,514.06 1174.30,514.06 1193.58,514.06 1212.85,514.06" fill="none" stroke="#cc6a62" stroke-width="1.4"/>
<polyline points="1259.40,417.24 1275.98,449.51 1292.55,448.90 1309.12,448.28 1325.70,447.67 1342.28,447.06 1358.85,446.44 1375.43,445.83 1392.00,445.21 1408.58,444.60 1425.15,443.98" fill="none" stroke="#cc6a62" stroke-width="1.4"/>
<path d="M1020.10,456.43V509.45M1013.80,456.43H1026.40M1013.80,509.45H1026.40" stroke="#b02a22" stroke-width="1.8" fill="none"/>
<path d="M1039.38,497.92V527.89M1033.08,497.92H1045.67M1033.08,527.89H1045.67" stroke="#b02a22" stroke-width="1.8" fill="none"/>
<path d="M1058.65,497.92V527.89M1052.35,497.92H1064.95M1052.35,527.89H1064.95" stroke="#b02a22" stroke-width="1.8" fill="none"/>
<path d="M1077.92,497.92V527.89M1071.62,497.92H1084.22M1071.62,527.89H1084.22" stroke="#b02a22" stroke-width="1.8" fill="none"/>
<path d="M1097.20,497.92V527.89M1090.90,497.92H1103.50M1090.90,527.89H1103.50" stroke="#b02a22" stroke-width="1.8" fill="none"/>
<path d="M1116.47,497.92V527.89M1110.17,497.92H1122.77M1110.17,527.89H1122.77" stroke="#b02a22" stroke-width="1.8" fill="none"/>
<path d="M1135.75,497.92V527.89M1129.45,497.92H1142.05M1129.45,527.89H1142.05" stroke="#b02a22" stroke-width="1.8" fill="none"/>
<path d="M1155.03,497.92V527.89M1148.73,497.92H1161.33M1148.73,527.89H1161.33" stroke="#b02a22" stroke-width="1.8" fill="none"/>
<path d="M1174.30,497.92V527.89M1168.00,497.92H1180.60M1168.00,527.89H1180.60" stroke="#b02a22" stroke-width="1.8" fill="none"/>
<path d="M1193.58,497.92V527.89M1187.28,497.92H1199.88M1187.28,527.89H1199.88" stroke="#b02a22" stroke-width="1.8" fill="none"/>
<path d="M1212.85,497.92V527.89M1206.55,497.92H1219.15M1206.55,527.89H1219.15" stroke="#b02a22" stroke-width="1.8" fill="none"/>
<path d="M1259.40,376.52V456.43M1253.10,376.52H1265.70M1253.10,456.43H1265.70" stroke="#b02a22" stroke-width="1.8" fill="none"/>
<path d="M1275.98,410.33V488.70M1269.68,410.33H1282.28M1269.68,488.70H1282.28" stroke="#b02a22" stroke-width="1.8" fill="none"/>
<path d="M1292.55,410.33V487.55M1286.25,410.33H1298.85M1286.25,487.55H1298.85" stroke="#b02a22" stroke-width="1.8" fill="none"/>
<path d="M1309.12,410.33V486.40M1302.83,410.33H1315.42M1302.83,486.40H1315.42" stroke="#b02a22" stroke-width="1.8" fill="none"/>
<path d="M1325.70,410.33V485.24M1319.40,410.33H1332.00M1319.40,485.24H1332.00" stroke="#b02a22" stroke-width="1.8" fill="none"/>
<path d="M1342.28,410.33V484.09M1335.98,410.33H1348.58M1335.98,484.09H1348.58" stroke="#b02a22" stroke-width="1.8" fill="none"/>
<path d="M1358.85,410.33V482.94M1352.55,410.33H1365.15M1352.55,482.94H1365.15" stroke="#b02a22" stroke-width="1.8" fill="none"/>
<path d="M1375.43,410.33V481.79M1369.13,410.33H1381.73M1369.13,481.79H1381.73" stroke="#b02a22" stroke-width="1.8" fill="none"/>
<path d="M1392.00,410.33V480.63M1385.70,410.33H1398.30M1385.70,480.63H1398.30" stroke="#b02a22" stroke-width="1.8" fill="none"/>
<path d="M1408.58,410.33V479.48M1402.28,410.33H1414.88M1402.28,479.48H1414.88" stroke="#b02a22" stroke-width="1.8" fill="none"/>
<path d="M1425.15,410.33V478.33M1418.85,410.33H1431.45M1418.85,478.33H1431.45" stroke="#b02a22" stroke-width="1.8" fill="none"/>
<g fill="#c2261a"><circle cx="1020.10" cy="484.09" r="7.6"/><circle cx="1039.38" cy="514.06" r="7.6"/><circle cx="1058.65" cy="514.06" r="7.6"/><circle cx="1077.92" cy="514.06" r="7.6"/><circle cx="1097.20" cy="514.06" r="7.6"/><circle cx="1116.47" cy="514.06" r="7.6"/><circle cx="1135.75" cy="514.06" r="7.6"/><circle cx="1155.03" cy="514.06" r="7.6"/><circle cx="1174.30" cy="514.06" r="7.6"/><circle cx="1193.58" cy="514.06" r="7.6"/><circle cx="1212.85" cy="514.06" r="7.6"/><circle cx="1259.40" cy="417.24" r="7.6"/><circle cx="1275.98" cy="449.51" r="7.6"/><circle cx="1292.55" cy="448.90" r="7.6"/><circle cx="1309.12" cy="448.28" r="7.6"/><circle cx="1325.70" cy="447.67" r="7.6"/><circle cx="1342.28" cy="447.06" r="7.6"/><circle cx="1358.85" cy="446.44" r="7.6"/><circle cx="1375.43" cy="445.83" r="7.6"/><circle cx="1392.00" cy="445.21" r="7.6"/><circle cx="1408.58" cy="444.60" r="7.6"/><circle cx="1425.15" cy="443.98" r="7.6"/></g>
<polyline points="1020.10,482.56 1039.38,506.38 1058.65,506.38 1077.92,506.38 1097.20,506.38 1116.47,506.38 1135.75,506.38 1155.03,506.38 1174.30,506.38 1193.58,506.38 1212.85,506.38" fill="none" stroke="#a8a8a8" stroke-width="1.4"/>
<polyline points="1259.40,344.24 1275.98,382.66 1292.55,382.66 1309.12,382.66 1325.70,382.66 1342.28,382.66 1358.85,382.66 1375.43,382.66 1392.00,382.66 1408.58,382.66 1425.15,382.66" fill="none" stroke="#a8a8a8" stroke-width="1.4"/>
<path d="M1020.10,451.43V512.91M1013.80,451.43H1026.40M1013.80,512.91H1026.40" stroke="#6c6c6c" stroke-width="1.8" fill="none"/>
<path d="M1039.38,480.25V530.96M1033.08,480.25H1045.67M1033.08,530.96H1045.67" stroke="#6c6c6c" stroke-width="1.8" fill="none"/>
<path d="M1058.65,480.25V530.96M1052.35,480.25H1064.95M1052.35,530.96H1064.95" stroke="#6c6c6c" stroke-width="1.8" fill="none"/>
<path d="M1077.92,480.25V530.96M1071.62,480.25H1084.22M1071.62,530.96H1084.22" stroke="#6c6c6c" stroke-width="1.8" fill="none"/>
<path d="M1097.20,480.25V530.96M1090.90,480.25H1103.50M1090.90,530.96H1103.50" stroke="#6c6c6c" stroke-width="1.8" fill="none"/>
<path d="M1116.47,480.25V530.96M1110.17,480.25H1122.77M1110.17,530.96H1122.77" stroke="#6c6c6c" stroke-width="1.8" fill="none"/>
<path d="M1135.75,480.25V530.96M1129.45,480.25H1142.05M1129.45,530.96H1142.05" stroke="#6c6c6c" stroke-width="1.8" fill="none"/>
<path d="M1155.03,480.25V530.96M1148.73,480.25H1161.33M1148.73,530.96H1161.33" stroke="#6c6c6c" stroke-width="1.8" fill="none"/>
<path d="M1174.30,480.25V530.96M1168.00,480.25H1180.60M1168.00,530.96H1180.60" stroke="#6c6c6c" stroke-width="1.8" fill="none"/>
<path d="M1193.58,480.25V530.96M1187.28,480.25H1199.88M1187.28,530.96H1199.88" stroke="#6c6c6c" stroke-width="1.8" fill="none"/>
<path d="M1212.85,480.25V530.96M1206.55,480.25H1219.15M1206.55,530.96H1219.15" stroke="#6c6c6c" stroke-width="1.8" fill="none"/>
<path d="M1259.40,311.20V372.67M1253.10,311.20H1265.70M1253.10,372.67H1265.70" stroke="#6c6c6c" stroke-width="1.8" fill="none"/>
<path d="M1275.98,358.46V404.95M1269.68,358.46H1282.28M1269.68,404.95H1282.28" stroke="#6c6c6c" stroke-width="1.8" fill="none"/>
<path d="M1292.55,358.46V404.95M1286.25,358.46H1298.85M1286.25,404.95H1298.85" stroke="#6c6c6c" stroke-width="1.8" fill="none"/>
<path d="M1309.12,358.46V404.95M1302.83,358.46H1315.42M1302.83,404.95H1315.42" stroke="#6c6c6c" stroke-width="1.8" fill="none"/>
<path d="M1325.70,358.46V404.95M1319.40,358.46H1332.00M1319.40,404.95H1332.00" stroke="#6c6c6c" stroke-width="1.8" fill="none"/>
<path d="M1342.28,358.46V404.95M1335.98,358.46H1348.58M1335.98,404.95H1348.58" stroke="#6c6c6c" stroke-width="1.8" fill="none"/>
<path d="M1358.85,358.46V404.95M1352.55,358.46H1365.15M1352.55,404.95H1365.15" stroke="#6c6c6c" stroke-width="1.8" fill="none"/>
<path d="M1375.43,358.46V404.95M1369.13,358.46H1381.73M1369.13,404.95H1381.73" stroke="#6c6c6c" stroke-width="1.8" fill="none"/>
<path d="M1392.00,358.46V404.95M1385.70,358.46H1398.30M1385.70,404.95H1398.30" stroke="#6c6c6c" stroke-width="1.8" fill="none"/>
<path d="M1408.58,358.46V404.95M1402.28,358.46H1414.88M1402.28,404.95H1414.88" stroke="#6c6c6c" stroke-width="1.8" fill="none"/>
<path d="M1425.15,358.46V404.95M1418.85,358.46H1431.45M1418.85,404.95H1431.45" stroke="#6c6c6c" stroke-width="1.8" fill="none"/>
<g fill="#727272"><circle cx="1020.10" cy="482.56" r="7.6"/><circle cx="1039.38" cy="506.38" r="7.6"/><circle cx="1058.65" cy="506.38" r="7.6"/><circle cx="1077.92" cy="506.38" r="7.6"/><circle cx="1097.20" cy="506.38" r="7.6"/><circle cx="1116.47" cy="506.38" r="7.6"/><circle cx="1135.75" cy="506.38" r="7.6"/><circle cx="1155.03" cy="506.38" r="7.6"/><circle cx="1174.30" cy="506.38" r="7.6"/><circle cx="1193.58" cy="506.38" r="7.6"/><circle cx="1212.85" cy="506.38" r="7.6"/><circle cx="1259.40" cy="344.24" r="7.6"/><circle cx="1275.98" cy="382.66" r="7.6"/><circle cx="1292.55" cy="382.66" r="7.6"/><circle cx="1309.12" cy="382.66" r="7.6"/><circle cx="1325.70" cy="382.66" r="7.6"/><circle cx="1342.28" cy="382.66" r="7.6"/><circle cx="1358.85" cy="382.66" r="7.6"/><circle cx="1375.43" cy="382.66" r="7.6"/><circle cx="1392.00" cy="382.66" r="7.6"/><circle cx="1408.58" cy="382.66" r="7.6"/><circle cx="1425.15" cy="382.66" r="7.6"/></g>
<text x="946.90" y="585.24" font-size="31.50" textLength="41.60" lengthAdjust="spacingAndGlyphs">0.8</text>
<text x="947.02" y="546.82" font-size="31.50" textLength="41.60" lengthAdjust="spacingAndGlyphs">0.9</text>
<text x="946.77" y="508.40" font-size="31.50" textLength="41.60" lengthAdjust="spacingAndGlyphs">1.0</text>
<text x="947.07" y="469.98" font-size="31.50" textLength="41.60" lengthAdjust="spacingAndGlyphs">1.1</text>
<text x="947.11" y="431.56" font-size="31.50" textLength="41.60" lengthAdjust="spacingAndGlyphs">1.2</text>
<text x="946.92" y="393.14" font-size="31.50" textLength="41.60" lengthAdjust="spacingAndGlyphs">1.3</text>
<text x="946.48" y="354.72" font-size="31.50" textLength="41.60" lengthAdjust="spacingAndGlyphs">1.4</text>
<text x="946.86" y="316.30" font-size="31.50" textLength="41.60" lengthAdjust="spacingAndGlyphs">1.5</text>
<text x="946.92" y="277.88" font-size="31.50" textLength="41.60" lengthAdjust="spacingAndGlyphs">1.6</text>
<text x="947.11" y="239.46" font-size="31.50" textLength="41.60" lengthAdjust="spacingAndGlyphs">1.7</text>
<text x="946.90" y="201.04" font-size="31.50" textLength="41.60" lengthAdjust="spacingAndGlyphs">1.8</text>
<text x="1011.50" y="634.10" font-size="30.93" textLength="17.20" lengthAdjust="spacingAndGlyphs">0</text>
<text x="1050.05" y="634.10" font-size="30.93" textLength="17.20" lengthAdjust="spacingAndGlyphs">1</text>
<text x="1088.60" y="634.10" font-size="30.93" textLength="17.20" lengthAdjust="spacingAndGlyphs">2</text>
<text x="1127.15" y="634.10" font-size="30.93" textLength="17.20" lengthAdjust="spacingAndGlyphs">3</text>
<text x="1165.70" y="634.10" font-size="30.93" textLength="17.20" lengthAdjust="spacingAndGlyphs">4</text>
<text x="1204.25" y="634.10" font-size="30.93" textLength="17.20" lengthAdjust="spacingAndGlyphs">5</text>
<text x="1250.72" y="641.00" font-size="31.21" textLength="17.36" lengthAdjust="spacingAndGlyphs">6</text>
<text x="1283.87" y="641.00" font-size="31.21" textLength="17.36" lengthAdjust="spacingAndGlyphs">7</text>
<text x="1317.02" y="641.00" font-size="31.21" textLength="17.36" lengthAdjust="spacingAndGlyphs">8</text>
<text x="1350.17" y="641.00" font-size="31.21" textLength="17.36" lengthAdjust="spacingAndGlyphs">9</text>
<text x="1374.64" y="641.00" font-size="31.21" textLength="34.72" lengthAdjust="spacingAndGlyphs">10</text>
<text x="1407.79" y="641.00" font-size="31.21" textLength="34.72" lengthAdjust="spacingAndGlyphs">11</text>
<text x="1440.94" y="641.00" font-size="31.21" textLength="34.72" lengthAdjust="spacingAndGlyphs">12</text>
<text x="853.07" y="43.16" font-size="60.50" textLength="38.25" lengthAdjust="spacingAndGlyphs" font-weight="bold">b</text>
<text x="1148.23" y="52.61" font-size="39.55" textLength="184.27" lengthAdjust="spacingAndGlyphs" font-weight="bold">HeLa SoNar</text>
<text x="1039.03" y="177.00" font-size="31.25" textLength="86.64" lengthAdjust="spacingAndGlyphs">no PYR</text>
<text x="1038.45" y="212.90" font-size="29.36" textLength="168.10" lengthAdjust="spacingAndGlyphs">HEPES/DMEM</text>
<text x="1205.99" y="203.20" font-size="16.42" textLength="44.77" lengthAdjust="spacingAndGlyphs">+dFBS</text>
<text x="1211.96" y="268.75" font-size="30.16" textLength="54.59" lengthAdjust="spacingAndGlyphs">Ant A</text>
<g transform="translate(898.70,586.90) rotate(-90)"><text x="-2.90" y="0.00" font-size="38.95" textLength="397.03" lengthAdjust="spacingAndGlyphs">Normalized F400/488 nm</text></g>
<text x="1176.22" y="692.50" font-size="38.15" textLength="166.70" lengthAdjust="spacingAndGlyphs">Time (min)</text>
<path d="M1239.5,280 V333" stroke="#000" stroke-width="3" fill="none"/><path d="M1233.5,325 L1239.5,333.5 L1245.5,325" stroke="#000" stroke-width="2.6" fill="none"/>
<line x1="1364" y1="186.25" x2="1423.5" y2="186.25" stroke="#a8a8a8" stroke-width="1.4"/><circle cx="1393.5" cy="186.25" r="7.8" fill="#727272"/>
<text x="1439.52" y="199.25" font-size="30.89" textLength="48.41" lengthAdjust="spacingAndGlyphs">LUC</text>
<line x1="1367" y1="245" x2="1426" y2="245" stroke="#cc6a62" stroke-width="1.4"/><circle cx="1396.5" cy="245" r="7.8" fill="#c2261a"/>
<text x="1444.94" y="257.60" font-size="31.83" textLength="22.25" lengthAdjust="spacingAndGlyphs" font-style="italic">Cr</text>
<text x="1468.69" y="257.60" font-size="31.83" textLength="69.78" lengthAdjust="spacingAndGlyphs">GPDH</text>
<line x1="1019.60" y1="940.50" x2="1019.60" y2="1367.00" stroke="#000" stroke-width="3.0"/>
<line x1="996.25" y1="1343.00" x2="1019.60" y2="1343.00" stroke="#000" stroke-width="3.0"/>
<line x1="996.25" y1="1142.50" x2="1019.60" y2="1142.50" stroke="#000" stroke-width="3.0"/>
<line x1="996.25" y1="942.00" x2="1019.60" y2="942.00" stroke="#000" stroke-width="3.0"/>
<line x1="996.25" y1="1343.00" x2="1213.60" y2="1343.00" stroke="#000" stroke-width="3.0"/>
<line x1="1256.10" y1="1343.00" x2="1459.00" y2="1343.00" stroke="#000" stroke-width="3.0"/>
<line x1="1200.00" y1="1357.00" x2="1227.50" y2="1328.75" stroke="#000" stroke-width="3.0"/>
<line x1="1242.50" y1="1357.00" x2="1270.00" y2="1328.75" stroke="#000" stroke-width="3.0"/>
<line x1="1019.60" y1="1343.00" x2="1019.60" y2="1367.00" stroke="#000" stroke-width="3.0"/>
<line x1="1038.83" y1="1343.00" x2="1038.83" y2="1356.00" stroke="#000" stroke-width="3.0"/>
<line x1="1058.05" y1="1343.00" x2="1058.05" y2="1367.00" stroke="#000" stroke-width="3.0"/>
<line x1="1077.28" y1="1343.00" x2="1077.28" y2="1356.00" stroke="#000" stroke-width="3.0"/>
<line x1="1096.50" y1="1343.00" x2="1096.50" y2="1367.00" stroke="#000" stroke-width="3.0"/>
<line x1="1115.72" y1="1343.00" x2="1115.72" y2="1356.00" stroke="#000" stroke-width="3.0"/>
<line x1="1134.95" y1="1343.00" x2="1134.95" y2="1367.00" stroke="#000" stroke-width="3.0"/>
<line x1="1154.17" y1="1343.00" x2="1154.17" y2="1356.00" stroke="#000" stroke-width="3.0"/>
<line x1="1173.40" y1="1343.00" x2="1173.40" y2="1367.00" stroke="#000" stroke-width="3.0"/>
<line x1="1192.62" y1="1343.00" x2="1192.62" y2="1356.00" stroke="#000" stroke-width="3.0"/>
<line x1="1274.62" y1="1343.00" x2="1274.62" y2="1359.00" stroke="#000" stroke-width="3.0"/>
<line x1="1291.25" y1="1343.00" x2="1291.25" y2="1374.00" stroke="#000" stroke-width="3.0"/>
<line x1="1307.88" y1="1343.00" x2="1307.88" y2="1359.00" stroke="#000" stroke-width="3.0"/>
<line x1="1324.50" y1="1343.00" x2="1324.50" y2="1374.00" stroke="#000" stroke-width="3.0"/>
<line x1="1341.12" y1="1343.00" x2="1341.12" y2="1359.00" stroke="#000" stroke-width="3.0"/>
<line x1="1357.75" y1="1343.00" x2="1357.75" y2="1374.00" stroke="#000" stroke-width="3.0"/>
<line x1="1374.38" y1="1343.00" x2="1374.38" y2="1359.00" stroke="#000" stroke-width="3.0"/>
<line x1="1391.00" y1="1343.00" x2="1391.00" y2="1374.00" stroke="#000" stroke-width="3.0"/>
<line x1="1407.62" y1="1343.00" x2="1407.62" y2="1359.00" stroke="#000" stroke-width="3.0"/>
<line x1="1424.25" y1="1343.00" x2="1424.25" y2="1374.00" stroke="#000" stroke-width="3.0"/>
<line x1="1440.88" y1="1343.00" x2="1440.88" y2="1359.00" stroke="#000" stroke-width="3.0"/>
<line x1="1457.50" y1="1343.00" x2="1457.50" y2="1374.00" stroke="#000" stroke-width="3.0"/>
<polyline points="1019.60,1126.06 1038.83,1160.55 1058.05,1160.55 1077.28,1160.55 1096.50,1160.55 1115.72,1160.55 1134.95,1160.55 1154.17,1160.55 1173.40,1160.55 1192.62,1160.55 1211.85,1160.55" fill="none" stroke="#cc6a62" stroke-width="1.4"/>
<polyline points="1258.00,1249.57 1274.62,1282.45 1291.25,1282.45 1307.88,1282.45 1324.50,1282.45 1341.12,1282.45 1357.75,1282.45 1374.38,1282.45 1391.00,1282.45 1407.62,1282.45 1424.25,1282.45" fill="none" stroke="#cc6a62" stroke-width="1.4"/>
<path d="M1019.60,1104.00V1151.32M1011.60,1104.00H1027.60M1011.60,1151.32H1027.60" stroke="#b02a22" stroke-width="1.8" fill="none"/>
<path d="M1038.83,1149.72V1174.18M1030.83,1149.72H1046.83M1030.83,1174.18H1046.83" stroke="#b02a22" stroke-width="1.8" fill="none"/>
<path d="M1058.05,1149.72V1174.18M1050.05,1149.72H1066.05M1050.05,1174.18H1066.05" stroke="#b02a22" stroke-width="1.8" fill="none"/>
<path d="M1077.28,1149.72V1174.18M1069.28,1149.72H1085.28M1069.28,1174.18H1085.28" stroke="#b02a22" stroke-width="1.8" fill="none"/>
<path d="M1096.50,1149.72V1174.18M1088.50,1149.72H1104.50M1088.50,1174.18H1104.50" stroke="#b02a22" stroke-width="1.8" fill="none"/>
<path d="M1115.72,1149.72V1174.18M1107.72,1149.72H1123.72M1107.72,1174.18H1123.72" stroke="#b02a22" stroke-width="1.8" fill="none"/>
<path d="M1134.95,1149.72V1174.18M1126.95,1149.72H1142.95M1126.95,1174.18H1142.95" stroke="#b02a22" stroke-width="1.8" fill="none"/>
<path d="M1154.17,1149.72V1174.18M1146.17,1149.72H1162.17M1146.17,1174.18H1162.17" stroke="#b02a22" stroke-width="1.8" fill="none"/>
<path d="M1173.40,1149.72V1174.18M1165.40,1149.72H1181.40M1165.40,1174.18H1181.40" stroke="#b02a22" stroke-width="1.8" fill="none"/>
<path d="M1192.62,1149.72V1174.18M1184.62,1149.72H1200.62M1184.62,1174.18H1200.62" stroke="#b02a22" stroke-width="1.8" fill="none"/>
<path d="M1211.85,1149.72V1174.18M1203.85,1149.72H1219.85M1203.85,1174.18H1219.85" stroke="#b02a22" stroke-width="1.8" fill="none"/>
<path d="M1258.00,1226.31V1278.84M1250.00,1226.31H1266.00M1250.00,1278.84H1266.00" stroke="#b02a22" stroke-width="1.8" fill="none"/>
<path d="M1274.62,1266.81V1302.90M1266.62,1266.81H1282.62M1266.62,1302.90H1282.62" stroke="#b02a22" stroke-width="1.8" fill="none"/>
<path d="M1291.25,1266.81V1302.90M1283.25,1266.81H1299.25M1283.25,1302.90H1299.25" stroke="#b02a22" stroke-width="1.8" fill="none"/>
<path d="M1307.88,1266.81V1302.90M1299.88,1266.81H1315.88M1299.88,1302.90H1315.88" stroke="#b02a22" stroke-width="1.8" fill="none"/>
<path d="M1324.50,1266.81V1302.90M1316.50,1266.81H1332.50M1316.50,1302.90H1332.50" stroke="#b02a22" stroke-width="1.8" fill="none"/>
<path d="M1341.12,1266.81V1302.90M1333.12,1266.81H1349.12M1333.12,1302.90H1349.12" stroke="#b02a22" stroke-width="1.8" fill="none"/>
<path d="M1357.75,1266.81V1302.90M1349.75,1266.81H1365.75M1349.75,1302.90H1365.75" stroke="#b02a22" stroke-width="1.8" fill="none"/>
<path d="M1374.38,1266.81V1302.90M1366.38,1266.81H1382.38M1366.38,1302.90H1382.38" stroke="#b02a22" stroke-width="1.8" fill="none"/>
<path d="M1391.00,1266.81V1302.90M1383.00,1266.81H1399.00M1383.00,1302.90H1399.00" stroke="#b02a22" stroke-width="1.8" fill="none"/>
<path d="M1407.62,1266.81V1302.90M1399.62,1266.81H1415.62M1399.62,1302.90H1415.62" stroke="#b02a22" stroke-width="1.8" fill="none"/>
<path d="M1424.25,1266.81V1302.90M1416.25,1266.81H1432.25M1416.25,1302.90H1432.25" stroke="#b02a22" stroke-width="1.8" fill="none"/>
<g fill="#c2261a"><circle cx="1019.60" cy="1126.06" r="7.6"/><circle cx="1038.83" cy="1160.55" r="7.6"/><circle cx="1058.05" cy="1160.55" r="7.6"/><circle cx="1077.28" cy="1160.55" r="7.6"/><circle cx="1096.50" cy="1160.55" r="7.6"/><circle cx="1115.72" cy="1160.55" r="7.6"/><circle cx="1134.95" cy="1160.55" r="7.6"/><circle cx="1154.17" cy="1160.55" r="7.6"/><circle cx="1173.40" cy="1160.55" r="7.6"/><circle cx="1192.62" cy="1160.55" r="7.6"/><circle cx="1211.85" cy="1160.55" r="7.6"/><circle cx="1258.00" cy="1249.57" r="7.6"/><circle cx="1274.62" cy="1282.45" r="7.6"/><circle cx="1291.25" cy="1282.45" r="7.6"/><circle cx="1307.88" cy="1282.45" r="7.6"/><circle cx="1324.50" cy="1282.45" r="7.6"/><circle cx="1341.12" cy="1282.45" r="7.6"/><circle cx="1357.75" cy="1282.45" r="7.6"/><circle cx="1374.38" cy="1282.45" r="7.6"/><circle cx="1391.00" cy="1282.45" r="7.6"/><circle cx="1407.62" cy="1282.45" r="7.6"/><circle cx="1424.25" cy="1282.45" r="7.6"/></g>
<polyline points="1019.60,1138.09 1038.83,1168.16 1058.05,1168.16 1077.28,1168.16 1096.50,1168.16 1115.72,1168.16 1134.95,1168.16 1154.17,1168.16 1173.40,1168.16 1192.62,1168.16 1211.85,1168.16" fill="none" stroke="#a8a8a8" stroke-width="1.4"/>
<polyline points="1258.00,1256.38 1274.62,1286.26 1291.25,1286.26 1307.88,1286.26 1324.50,1286.26 1341.12,1286.26 1357.75,1286.26 1374.38,1286.26 1391.00,1286.26 1407.62,1286.26 1424.25,1286.26" fill="none" stroke="#a8a8a8" stroke-width="1.4"/>
<path d="M1019.60,1115.63V1160.95M1011.60,1115.63H1027.60M1011.60,1160.95H1027.60" stroke="#626464" stroke-width="1.8" fill="none"/>
<path d="M1038.83,1154.93V1180.60M1030.83,1154.93H1046.83M1030.83,1180.60H1046.83" stroke="#626464" stroke-width="1.8" fill="none"/>
<path d="M1058.05,1154.93V1180.60M1050.05,1154.93H1066.05M1050.05,1180.60H1066.05" stroke="#626464" stroke-width="1.8" fill="none"/>
<path d="M1077.28,1154.93V1180.60M1069.28,1154.93H1085.28M1069.28,1180.60H1085.28" stroke="#626464" stroke-width="1.8" fill="none"/>
<path d="M1096.50,1154.93V1180.60M1088.50,1154.93H1104.50M1088.50,1180.60H1104.50" stroke="#626464" stroke-width="1.8" fill="none"/>
<path d="M1115.72,1154.93V1180.60M1107.72,1154.93H1123.72M1107.72,1180.60H1123.72" stroke="#626464" stroke-width="1.8" fill="none"/>
<path d="M1134.95,1154.93V1180.60M1126.95,1154.93H1142.95M1126.95,1180.60H1142.95" stroke="#626464" stroke-width="1.8" fill="none"/>
<path d="M1154.17,1154.93V1180.60M1146.17,1154.93H1162.17M1146.17,1180.60H1162.17" stroke="#626464" stroke-width="1.8" fill="none"/>
<path d="M1173.40,1154.93V1180.60M1165.40,1154.93H1181.40M1165.40,1180.60H1181.40" stroke="#626464" stroke-width="1.8" fill="none"/>
<path d="M1192.62,1154.93V1180.60M1184.62,1154.93H1200.62M1184.62,1180.60H1200.62" stroke="#626464" stroke-width="1.8" fill="none"/>
<path d="M1211.85,1154.93V1180.60M1203.85,1154.93H1219.85M1203.85,1180.60H1219.85" stroke="#626464" stroke-width="1.8" fill="none"/>
<path d="M1258.00,1233.93V1276.43M1250.00,1233.93H1266.00M1250.00,1276.43H1266.00" stroke="#626464" stroke-width="1.8" fill="none"/>
<path d="M1274.62,1272.42V1300.09M1266.62,1272.42H1282.62M1266.62,1300.09H1282.62" stroke="#626464" stroke-width="1.8" fill="none"/>
<path d="M1291.25,1272.42V1300.09M1283.25,1272.42H1299.25M1283.25,1300.09H1299.25" stroke="#626464" stroke-width="1.8" fill="none"/>
<path d="M1307.88,1272.42V1300.09M1299.88,1272.42H1315.88M1299.88,1300.09H1315.88" stroke="#626464" stroke-width="1.8" fill="none"/>
<path d="M1324.50,1272.42V1300.09M1316.50,1272.42H1332.50M1316.50,1300.09H1332.50" stroke="#626464" stroke-width="1.8" fill="none"/>
<path d="M1341.12,1272.42V1300.09M1333.12,1272.42H1349.12M1333.12,1300.09H1349.12" stroke="#626464" stroke-width="1.8" fill="none"/>
<path d="M1357.75,1272.42V1300.09M1349.75,1272.42H1365.75M1349.75,1300.09H1365.75" stroke="#626464" stroke-width="1.8" fill="none"/>
<path d="M1374.38,1272.42V1300.09M1366.38,1272.42H1382.38M1366.38,1300.09H1382.38" stroke="#626464" stroke-width="1.8" fill="none"/>
<path d="M1391.00,1272.42V1300.09M1383.00,1272.42H1399.00M1383.00,1300.09H1399.00" stroke="#626464" stroke-width="1.8" fill="none"/>
<path d="M1407.62,1272.42V1300.09M1399.62,1272.42H1415.62M1399.62,1300.09H1415.62" stroke="#626464" stroke-width="1.8" fill="none"/>
<path d="M1424.25,1272.42V1300.09M1416.25,1272.42H1432.25M1416.25,1300.09H1432.25" stroke="#626464" stroke-width="1.8" fill="none"/>
<g fill="#666868"><circle cx="1019.60" cy="1138.09" r="7.6"/><circle cx="1038.83" cy="1168.16" r="7.6"/><circle cx="1058.05" cy="1168.16" r="7.6"/><circle cx="1077.28" cy="1168.16" r="7.6"/><circle cx="1096.50" cy="1168.16" r="7.6"/><circle cx="1115.72" cy="1168.16" r="7.6"/><circle cx="1134.95" cy="1168.16" r="7.6"/><circle cx="1154.17" cy="1168.16" r="7.6"/><circle cx="1173.40" cy="1168.16" r="7.6"/><circle cx="1192.62" cy="1168.16" r="7.6"/><circle cx="1211.85" cy="1168.16" r="7.6"/><circle cx="1258.00" cy="1256.38" r="7.6"/><circle cx="1274.62" cy="1286.26" r="7.6"/><circle cx="1291.25" cy="1286.26" r="7.6"/><circle cx="1307.88" cy="1286.26" r="7.6"/><circle cx="1324.50" cy="1286.26" r="7.6"/><circle cx="1341.12" cy="1286.26" r="7.6"/><circle cx="1357.75" cy="1286.26" r="7.6"/><circle cx="1374.38" cy="1286.26" r="7.6"/><circle cx="1391.00" cy="1286.26" r="7.6"/><circle cx="1407.62" cy="1286.26" r="7.6"/><circle cx="1424.25" cy="1286.26" r="7.6"/></g>
<text x="948.08" y="1355.19" font-size="31.92" textLength="41.27" lengthAdjust="spacingAndGlyphs">0.5</text>
<text x="947.99" y="1154.69" font-size="31.92" textLength="41.27" lengthAdjust="spacingAndGlyphs">1.0</text>
<text x="948.08" y="954.19" font-size="31.92" textLength="41.27" lengthAdjust="spacingAndGlyphs">1.5</text>
<text x="1011.08" y="1403.90" font-size="30.65" textLength="17.05" lengthAdjust="spacingAndGlyphs">0</text>
<text x="1049.53" y="1403.90" font-size="30.65" textLength="17.05" lengthAdjust="spacingAndGlyphs">1</text>
<text x="1087.98" y="1403.90" font-size="30.65" textLength="17.05" lengthAdjust="spacingAndGlyphs">2</text>
<text x="1126.43" y="1403.90" font-size="30.65" textLength="17.05" lengthAdjust="spacingAndGlyphs">3</text>
<text x="1164.88" y="1403.90" font-size="30.65" textLength="17.05" lengthAdjust="spacingAndGlyphs">4</text>
<text x="1203.33" y="1403.90" font-size="30.65" textLength="17.05" lengthAdjust="spacingAndGlyphs">5</text>
<text x="1249.40" y="1411.10" font-size="30.93" textLength="17.20" lengthAdjust="spacingAndGlyphs">6</text>
<text x="1282.65" y="1411.10" font-size="30.93" textLength="17.20" lengthAdjust="spacingAndGlyphs">7</text>
<text x="1315.90" y="1411.10" font-size="30.93" textLength="17.20" lengthAdjust="spacingAndGlyphs">8</text>
<text x="1349.15" y="1411.10" font-size="30.93" textLength="17.20" lengthAdjust="spacingAndGlyphs">9</text>
<text x="1373.80" y="1411.10" font-size="30.93" textLength="34.41" lengthAdjust="spacingAndGlyphs">10</text>
<text x="1407.05" y="1411.10" font-size="30.93" textLength="34.41" lengthAdjust="spacingAndGlyphs">11</text>
<text x="1440.30" y="1411.10" font-size="30.93" textLength="34.41" lengthAdjust="spacingAndGlyphs">12</text>
<text x="833.22" y="845.73" font-size="58.42" textLength="38.43" lengthAdjust="spacingAndGlyphs" font-weight="bold">d</text>
<text x="1139.57" y="845.92" font-size="38.40" textLength="180.62" lengthAdjust="spacingAndGlyphs" font-weight="bold">HeLa iNAP1</text>
<text x="1038.54" y="920.30" font-size="31.25" textLength="86.12" lengthAdjust="spacingAndGlyphs">no PYR</text>
<text x="1038.45" y="956.50" font-size="29.07" textLength="168.10" lengthAdjust="spacingAndGlyphs">HEPES/DMEM</text>
<text x="1205.99" y="947.00" font-size="16.42" textLength="44.77" lengthAdjust="spacingAndGlyphs">+dFBS</text>
<text x="1229.40" y="1000.60" font-size="28.34" textLength="199.80" lengthAdjust="spacingAndGlyphs">(Medium Change):</text>
<text x="1230.16" y="1035.80" font-size="29.51" textLength="166.87" lengthAdjust="spacingAndGlyphs">HEPES/DMEM</text>
<text x="1398.21" y="1024.80" font-size="17.01" textLength="43.54" lengthAdjust="spacingAndGlyphs">+dFBS</text>
<text x="1230.24" y="1071.70" font-size="29.51" textLength="124.82" lengthAdjust="spacingAndGlyphs">No Glucose</text>
<text x="1228.24" y="1103.75" font-size="29.58" textLength="135.36" lengthAdjust="spacingAndGlyphs">+10mM PYR</text>
<g transform="translate(898.10,1386.70) rotate(-90)"><text x="-3.18" y="0.00" font-size="38.81" textLength="435.54" lengthAdjust="spacingAndGlyphs">Normalized F400/488 nm</text></g>
<text x="1174.50" y="1473.60" font-size="36.77" textLength="169.70" lengthAdjust="spacingAndGlyphs">Time (min)</text>
<path d="M1250.75,1122.5 V1177" stroke="#000" stroke-width="3" fill="none"/><path d="M1244.5,1168.5 L1250.75,1177.5 L1257,1168.5" stroke="#000" stroke-width="2.6" fill="none"/>
<line x1="1327" y1="1153" x2="1386.25" y2="1153" stroke="#a8a8a8" stroke-width="1.4"/><circle cx="1356.5" cy="1153" r="7.8" fill="#727272"/>
<text x="1403.79" y="1166.20" font-size="32.12" textLength="47.87" lengthAdjust="spacingAndGlyphs">LUC</text>
<line x1="1330" y1="1211.25" x2="1389.5" y2="1211.25" stroke="#cc6a62" stroke-width="1.4"/><circle cx="1359.5" cy="1211.25" r="7.8" fill="#c2261a"/>
<text x="1408.34" y="1224.60" font-size="31.83" textLength="22.15" lengthAdjust="spacingAndGlyphs" font-style="italic">Cr</text>
<text x="1431.99" y="1224.60" font-size="31.83" textLength="69.47" lengthAdjust="spacingAndGlyphs">GPDH</text>
<line x1="145.00" y1="1773.50" x2="145.00" y2="2174.50" stroke="#000" stroke-width="3.0"/>
<line x1="123.00" y1="2152.50" x2="145.00" y2="2152.50" stroke="#000" stroke-width="3.0"/>
<line x1="123.00" y1="2068.75" x2="145.00" y2="2068.75" stroke="#000" stroke-width="3.0"/>
<line x1="123.00" y1="1985.00" x2="145.00" y2="1985.00" stroke="#000" stroke-width="3.0"/>
<line x1="123.00" y1="1901.25" x2="145.00" y2="1901.25" stroke="#000" stroke-width="3.0"/>
<line x1="123.00" y1="1817.50" x2="145.00" y2="1817.50" stroke="#000" stroke-width="3.0"/>
<line x1="123.00" y1="2152.50" x2="335.20" y2="2152.50" stroke="#000" stroke-width="3.0"/>
<line x1="376.10" y1="2152.50" x2="576.50" y2="2152.50" stroke="#000" stroke-width="3.0"/>
<line x1="322.00" y1="2165.50" x2="349.25" y2="2138.75" stroke="#000" stroke-width="3.0"/>
<line x1="363.00" y1="2165.50" x2="390.00" y2="2138.75" stroke="#000" stroke-width="3.0"/>
<line x1="145.00" y1="2152.50" x2="145.00" y2="2174.50" stroke="#000" stroke-width="3.0"/>
<line x1="163.80" y1="2152.50" x2="163.80" y2="2164.50" stroke="#000" stroke-width="3.0"/>
<line x1="182.60" y1="2152.50" x2="182.60" y2="2174.50" stroke="#000" stroke-width="3.0"/>
<line x1="201.40" y1="2152.50" x2="201.40" y2="2164.50" stroke="#000" stroke-width="3.0"/>
<line x1="220.20" y1="2152.50" x2="220.20" y2="2174.50" stroke="#000" stroke-width="3.0"/>
<line x1="239.00" y1="2152.50" x2="239.00" y2="2164.50" stroke="#000" stroke-width="3.0"/>
<line x1="257.80" y1="2152.50" x2="257.80" y2="2174.50" stroke="#000" stroke-width="3.0"/>
<line x1="276.60" y1="2152.50" x2="276.60" y2="2164.50" stroke="#000" stroke-width="3.0"/>
<line x1="295.40" y1="2152.50" x2="295.40" y2="2174.50" stroke="#000" stroke-width="3.0"/>
<line x1="314.20" y1="2152.50" x2="314.20" y2="2164.50" stroke="#000" stroke-width="3.0"/>
<line x1="395.00" y1="2152.50" x2="395.00" y2="2168.00" stroke="#000" stroke-width="3.0"/>
<line x1="411.25" y1="2152.50" x2="411.25" y2="2181.50" stroke="#000" stroke-width="3.0"/>
<line x1="427.50" y1="2152.50" x2="427.50" y2="2168.00" stroke="#000" stroke-width="3.0"/>
<line x1="443.75" y1="2152.50" x2="443.75" y2="2181.50" stroke="#000" stroke-width="3.0"/>
<line x1="460.00" y1="2152.50" x2="460.00" y2="2168.00" stroke="#000" stroke-width="3.0"/>
<line x1="476.25" y1="2152.50" x2="476.25" y2="2181.50" stroke="#000" stroke-width="3.0"/>
<line x1="492.50" y1="2152.50" x2="492.50" y2="2168.00" stroke="#000" stroke-width="3.0"/>
<line x1="508.75" y1="2152.50" x2="508.75" y2="2181.50" stroke="#000" stroke-width="3.0"/>
<line x1="525.00" y1="2152.50" x2="525.00" y2="2168.00" stroke="#000" stroke-width="3.0"/>
<line x1="541.25" y1="2152.50" x2="541.25" y2="2181.50" stroke="#000" stroke-width="3.0"/>
<line x1="557.50" y1="2152.50" x2="557.50" y2="2168.00" stroke="#000" stroke-width="3.0"/>
<line x1="573.75" y1="2152.50" x2="573.75" y2="2181.50" stroke="#000" stroke-width="3.0"/>
<polyline points="145.00,1966.16 163.80,1988.77 182.60,1988.77 201.40,1988.77 220.20,1988.77 239.00,1988.77 257.80,1988.77 276.60,1988.77 295.40,1988.77 314.20,1988.77 333.00,1988.77" fill="none" stroke="#cc6a62" stroke-width="1.4"/>
<polyline points="378.75,1941.03 395.00,1961.13 411.25,1961.13 427.50,1961.13 443.75,1961.13 460.00,1961.13 476.25,1961.13 492.50,1961.13 508.75,1961.13 525.00,1961.13 541.25,1961.13" fill="none" stroke="#cc6a62" stroke-width="1.4"/>
<path d="M145.00,1951.08V1982.91M137.00,1951.08H153.00M137.00,1982.91H153.00" stroke="#b02a22" stroke-width="1.8" fill="none"/>
<path d="M163.80,1981.23V1995.47M155.80,1981.23H171.80M155.80,1995.47H171.80" stroke="#b02a22" stroke-width="1.8" fill="none"/>
<path d="M182.60,1981.23V1995.47M174.60,1981.23H190.60M174.60,1995.47H190.60" stroke="#b02a22" stroke-width="1.8" fill="none"/>
<path d="M201.40,1981.23V1995.47M193.40,1981.23H209.40M193.40,1995.47H209.40" stroke="#b02a22" stroke-width="1.8" fill="none"/>
<path d="M220.20,1981.23V1995.47M212.20,1981.23H228.20M212.20,1995.47H228.20" stroke="#b02a22" stroke-width="1.8" fill="none"/>
<path d="M239.00,1981.23V1995.47M231.00,1981.23H247.00M231.00,1995.47H247.00" stroke="#b02a22" stroke-width="1.8" fill="none"/>
<path d="M257.80,1981.23V1995.47M249.80,1981.23H265.80M249.80,1995.47H265.80" stroke="#b02a22" stroke-width="1.8" fill="none"/>
<path d="M276.60,1981.23V1995.47M268.60,1981.23H284.60M268.60,1995.47H284.60" stroke="#b02a22" stroke-width="1.8" fill="none"/>
<path d="M295.40,1981.23V1995.47M287.40,1981.23H303.40M287.40,1995.47H303.40" stroke="#b02a22" stroke-width="1.8" fill="none"/>
<path d="M314.20,1981.23V1995.47M306.20,1981.23H322.20M306.20,1995.47H322.20" stroke="#b02a22" stroke-width="1.8" fill="none"/>
<path d="M333.00,1981.23V1995.47M325.00,1981.23H341.00M325.00,1995.47H341.00" stroke="#b02a22" stroke-width="1.8" fill="none"/>
<path d="M378.75,1922.61V1958.62M370.75,1922.61H386.75M370.75,1958.62H386.75" stroke="#b02a22" stroke-width="1.8" fill="none"/>
<path d="M395.00,1952.34V1970.34M387.00,1952.34H403.00M387.00,1970.34H403.00" stroke="#b02a22" stroke-width="1.8" fill="none"/>
<path d="M411.25,1952.34V1970.34M403.25,1952.34H419.25M403.25,1970.34H419.25" stroke="#b02a22" stroke-width="1.8" fill="none"/>
<path d="M427.50,1952.34V1970.34M419.50,1952.34H435.50M419.50,1970.34H435.50" stroke="#b02a22" stroke-width="1.8" fill="none"/>
<path d="M443.75,1952.34V1970.34M435.75,1952.34H451.75M435.75,1970.34H451.75" stroke="#b02a22" stroke-width="1.8" fill="none"/>
<path d="M460.00,1952.34V1970.34M452.00,1952.34H468.00M452.00,1970.34H468.00" stroke="#b02a22" stroke-width="1.8" fill="none"/>
<path d="M476.25,1952.34V1970.34M468.25,1952.34H484.25M468.25,1970.34H484.25" stroke="#b02a22" stroke-width="1.8" fill="none"/>
<path d="M492.50,1952.34V1970.34M484.50,1952.34H500.50M484.50,1970.34H500.50" stroke="#b02a22" stroke-width="1.8" fill="none"/>
<path d="M508.75,1952.34V1970.34M500.75,1952.34H516.75M500.75,1970.34H516.75" stroke="#b02a22" stroke-width="1.8" fill="none"/>
<path d="M525.00,1952.34V1970.34M517.00,1952.34H533.00M517.00,1970.34H533.00" stroke="#b02a22" stroke-width="1.8" fill="none"/>
<path d="M541.25,1952.34V1970.34M533.25,1952.34H549.25M533.25,1970.34H549.25" stroke="#b02a22" stroke-width="1.8" fill="none"/>
<g fill="#c2261a"><circle cx="145.00" cy="1966.16" r="7.6"/><circle cx="163.80" cy="1988.77" r="7.6"/><circle cx="182.60" cy="1988.77" r="7.6"/><circle cx="201.40" cy="1988.77" r="7.6"/><circle cx="220.20" cy="1988.77" r="7.6"/><circle cx="239.00" cy="1988.77" r="7.6"/><circle cx="257.80" cy="1988.77" r="7.6"/><circle cx="276.60" cy="1988.77" r="7.6"/><circle cx="295.40" cy="1988.77" r="7.6"/><circle cx="314.20" cy="1988.77" r="7.6"/><circle cx="333.00" cy="1988.77" r="7.6"/><circle cx="378.75" cy="1941.03" r="7.6"/><circle cx="395.00" cy="1961.13" r="7.6"/><circle cx="411.25" cy="1961.13" r="7.6"/><circle cx="427.50" cy="1961.13" r="7.6"/><circle cx="443.75" cy="1961.13" r="7.6"/><circle cx="460.00" cy="1961.13" r="7.6"/><circle cx="476.25" cy="1961.13" r="7.6"/><circle cx="492.50" cy="1961.13" r="7.6"/><circle cx="508.75" cy="1961.13" r="7.6"/><circle cx="525.00" cy="1961.13" r="7.6"/><circle cx="541.25" cy="1961.13" r="7.6"/></g>
<polyline points="145.00,1972.02 163.80,1990.03 182.60,1990.03 201.40,1990.03 220.20,1990.03 239.00,1990.03 257.80,1990.03 276.60,1990.03 295.40,1990.03 314.20,1990.03 333.00,1990.03" fill="none" stroke="#a8a8a8" stroke-width="1.4"/>
<polyline points="378.75,1938.94 395.00,1961.97 411.25,1961.97 427.50,1961.97 443.75,1961.97 460.00,1961.97 476.25,1961.97 492.50,1961.97 508.75,1961.97 525.00,1961.97 541.25,1961.97" fill="none" stroke="#a8a8a8" stroke-width="1.4"/>
<path d="M145.00,1956.11V1986.26M137.00,1956.11H153.00M137.00,1986.26H153.00" stroke="#636565" stroke-width="1.8" fill="none"/>
<path d="M163.80,1982.49V1996.72M155.80,1982.49H171.80M155.80,1996.72H171.80" stroke="#636565" stroke-width="1.8" fill="none"/>
<path d="M182.60,1982.49V1996.72M174.60,1982.49H190.60M174.60,1996.72H190.60" stroke="#636565" stroke-width="1.8" fill="none"/>
<path d="M201.40,1982.49V1996.72M193.40,1982.49H209.40M193.40,1996.72H209.40" stroke="#636565" stroke-width="1.8" fill="none"/>
<path d="M220.20,1982.49V1996.72M212.20,1982.49H228.20M212.20,1996.72H228.20" stroke="#636565" stroke-width="1.8" fill="none"/>
<path d="M239.00,1982.49V1996.72M231.00,1982.49H247.00M231.00,1996.72H247.00" stroke="#636565" stroke-width="1.8" fill="none"/>
<path d="M257.80,1982.49V1996.72M249.80,1982.49H265.80M249.80,1996.72H265.80" stroke="#636565" stroke-width="1.8" fill="none"/>
<path d="M276.60,1982.49V1996.72M268.60,1982.49H284.60M268.60,1996.72H284.60" stroke="#636565" stroke-width="1.8" fill="none"/>
<path d="M295.40,1982.49V1996.72M287.40,1982.49H303.40M287.40,1996.72H303.40" stroke="#636565" stroke-width="1.8" fill="none"/>
<path d="M314.20,1982.49V1996.72M306.20,1982.49H322.20M306.20,1996.72H322.20" stroke="#636565" stroke-width="1.8" fill="none"/>
<path d="M333.00,1982.49V1996.72M325.00,1982.49H341.00M325.00,1996.72H341.00" stroke="#636565" stroke-width="1.8" fill="none"/>
<path d="M378.75,1917.16V1956.11M370.75,1917.16H386.75M370.75,1956.11H386.75" stroke="#636565" stroke-width="1.8" fill="none"/>
<path d="M395.00,1949.41V1973.69M387.00,1949.41H403.00M387.00,1973.69H403.00" stroke="#636565" stroke-width="1.8" fill="none"/>
<path d="M411.25,1949.41V1973.69M403.25,1949.41H419.25M403.25,1973.69H419.25" stroke="#636565" stroke-width="1.8" fill="none"/>
<path d="M427.50,1949.41V1973.69M419.50,1949.41H435.50M419.50,1973.69H435.50" stroke="#636565" stroke-width="1.8" fill="none"/>
<path d="M443.75,1949.41V1973.69M435.75,1949.41H451.75M435.75,1973.69H451.75" stroke="#636565" stroke-width="1.8" fill="none"/>
<path d="M460.00,1949.41V1973.69M452.00,1949.41H468.00M452.00,1973.69H468.00" stroke="#636565" stroke-width="1.8" fill="none"/>
<path d="M476.25,1949.41V1973.69M468.25,1949.41H484.25M468.25,1973.69H484.25" stroke="#636565" stroke-width="1.8" fill="none"/>
<path d="M492.50,1949.41V1973.69M484.50,1949.41H500.50M484.50,1973.69H500.50" stroke="#636565" stroke-width="1.8" fill="none"/>
<path d="M508.75,1949.41V1973.69M500.75,1949.41H516.75M500.75,1973.69H516.75" stroke="#636565" stroke-width="1.8" fill="none"/>
<path d="M525.00,1949.41V1973.69M517.00,1949.41H533.00M517.00,1973.69H533.00" stroke="#636565" stroke-width="1.8" fill="none"/>
<path d="M541.25,1949.41V1973.69M533.25,1949.41H549.25M533.25,1973.69H549.25" stroke="#636565" stroke-width="1.8" fill="none"/>
<g fill="#676969"><circle cx="145.00" cy="1972.02" r="7.6"/><circle cx="163.80" cy="1990.03" r="7.6"/><circle cx="182.60" cy="1990.03" r="7.6"/><circle cx="201.40" cy="1990.03" r="7.6"/><circle cx="220.20" cy="1990.03" r="7.6"/><circle cx="239.00" cy="1990.03" r="7.6"/><circle cx="257.80" cy="1990.03" r="7.6"/><circle cx="276.60" cy="1990.03" r="7.6"/><circle cx="295.40" cy="1990.03" r="7.6"/><circle cx="314.20" cy="1990.03" r="7.6"/><circle cx="333.00" cy="1990.03" r="7.6"/><circle cx="378.75" cy="1938.94" r="7.6"/><circle cx="395.00" cy="1961.97" r="7.6"/><circle cx="411.25" cy="1961.97" r="7.6"/><circle cx="427.50" cy="1961.97" r="7.6"/><circle cx="443.75" cy="1961.97" r="7.6"/><circle cx="460.00" cy="1961.97" r="7.6"/><circle cx="476.25" cy="1961.97" r="7.6"/><circle cx="492.50" cy="1961.97" r="7.6"/><circle cx="508.75" cy="1961.97" r="7.6"/><circle cx="525.00" cy="1961.97" r="7.6"/><circle cx="541.25" cy="1961.97" r="7.6"/></g>
<text x="76.51" y="2162.65" font-size="30.93" textLength="41.71" lengthAdjust="spacingAndGlyphs">0.6</text>
<text x="76.49" y="2078.90" font-size="30.93" textLength="41.71" lengthAdjust="spacingAndGlyphs">0.8</text>
<text x="76.36" y="1995.15" font-size="30.93" textLength="41.71" lengthAdjust="spacingAndGlyphs">1.0</text>
<text x="76.70" y="1911.40" font-size="30.93" textLength="41.71" lengthAdjust="spacingAndGlyphs">1.2</text>
<text x="76.07" y="1827.65" font-size="30.93" textLength="41.71" lengthAdjust="spacingAndGlyphs">1.4</text>
<text x="136.40" y="2209.10" font-size="30.93" textLength="17.20" lengthAdjust="spacingAndGlyphs">0</text>
<text x="174.00" y="2209.10" font-size="30.93" textLength="17.20" lengthAdjust="spacingAndGlyphs">1</text>
<text x="211.60" y="2209.10" font-size="30.93" textLength="17.20" lengthAdjust="spacingAndGlyphs">2</text>
<text x="249.20" y="2209.10" font-size="30.93" textLength="17.20" lengthAdjust="spacingAndGlyphs">3</text>
<text x="286.80" y="2209.10" font-size="30.93" textLength="17.20" lengthAdjust="spacingAndGlyphs">4</text>
<text x="324.40" y="2209.10" font-size="30.93" textLength="17.20" lengthAdjust="spacingAndGlyphs">5</text>
<text x="370.15" y="2216.20" font-size="30.93" textLength="17.20" lengthAdjust="spacingAndGlyphs">6</text>
<text x="402.65" y="2216.20" font-size="30.93" textLength="17.20" lengthAdjust="spacingAndGlyphs">7</text>
<text x="435.15" y="2216.20" font-size="30.93" textLength="17.20" lengthAdjust="spacingAndGlyphs">8</text>
<text x="467.65" y="2216.20" font-size="30.93" textLength="17.20" lengthAdjust="spacingAndGlyphs">9</text>
<text x="491.55" y="2216.20" font-size="30.93" textLength="34.41" lengthAdjust="spacingAndGlyphs">10</text>
<text x="524.05" y="2216.20" font-size="30.93" textLength="34.41" lengthAdjust="spacingAndGlyphs">11</text>
<text x="556.55" y="2216.20" font-size="30.93" textLength="34.41" lengthAdjust="spacingAndGlyphs">12</text>
<text x="-2.39" y="1641.92" font-size="59.32" textLength="33.97" lengthAdjust="spacingAndGlyphs" font-weight="bold">e</text>
<text x="289.10" y="1642.62" font-size="38.81" textLength="187.27" lengthAdjust="spacingAndGlyphs" font-weight="bold">HeLa iNAPC</text>
<text x="288.51" y="1714.50" font-size="26.53" textLength="199.19" lengthAdjust="spacingAndGlyphs">(Medium Change):</text>
<text x="288.45" y="1750.00" font-size="27.25" textLength="168.10" lengthAdjust="spacingAndGlyphs">HEPES/DMEM</text>
<text x="455.54" y="1741.25" font-size="16.35" textLength="44.62" lengthAdjust="spacingAndGlyphs">+dFBS</text>
<text x="288.04" y="1786.25" font-size="29.07" textLength="125.03" lengthAdjust="spacingAndGlyphs">No Glucose</text>
<text x="286.33" y="1818.75" font-size="29.07" textLength="136.02" lengthAdjust="spacingAndGlyphs">+10mM PYR</text>
<text x="165.84" y="2061.70" font-size="31.25" textLength="86.12" lengthAdjust="spacingAndGlyphs">no PYR</text>
<text x="164.95" y="2097.50" font-size="30.89" textLength="168.36" lengthAdjust="spacingAndGlyphs">HEPES/DMEM</text>
<text x="333.04" y="2088.00" font-size="18.17" textLength="44.62" lengthAdjust="spacingAndGlyphs">+dFBS</text>
<g transform="translate(52.10,2184.80) rotate(-90)"><text x="-3.04" y="0.00" font-size="38.95" textLength="416.39" lengthAdjust="spacingAndGlyphs">Normalized F400/488 nm</text></g>
<text x="269.17" y="2266.25" font-size="37.43" textLength="175.61" lengthAdjust="spacingAndGlyphs">Time (min)</text>
<path d="M364.5,1847 V1901.5" stroke="#000" stroke-width="3" fill="none"/><path d="M358.25,1893 L364.5,1902 L370.75,1893" stroke="#000" stroke-width="2.6" fill="none"/>
<line x1="493.25" y1="1805.75" x2="552.5" y2="1805.75" stroke="#a8a8a8" stroke-width="1.4"/><circle cx="522.5" cy="1805.75" r="7.8" fill="#727272"/>
<text x="569.25" y="1818.75" font-size="30.16" textLength="48.67" lengthAdjust="spacingAndGlyphs">LUC</text>
<line x1="496.25" y1="1865" x2="555.5" y2="1865" stroke="#cc6a62" stroke-width="1.4"/><circle cx="525.75" cy="1865" r="7.8" fill="#c2261a"/>
<text x="573.83" y="1877.00" font-size="30.16" textLength="22.46" lengthAdjust="spacingAndGlyphs" font-style="italic">Cr</text>
<text x="597.77" y="1877.00" font-size="30.16" textLength="70.62" lengthAdjust="spacingAndGlyphs">GPDH</text>
</svg>
</body></html>
